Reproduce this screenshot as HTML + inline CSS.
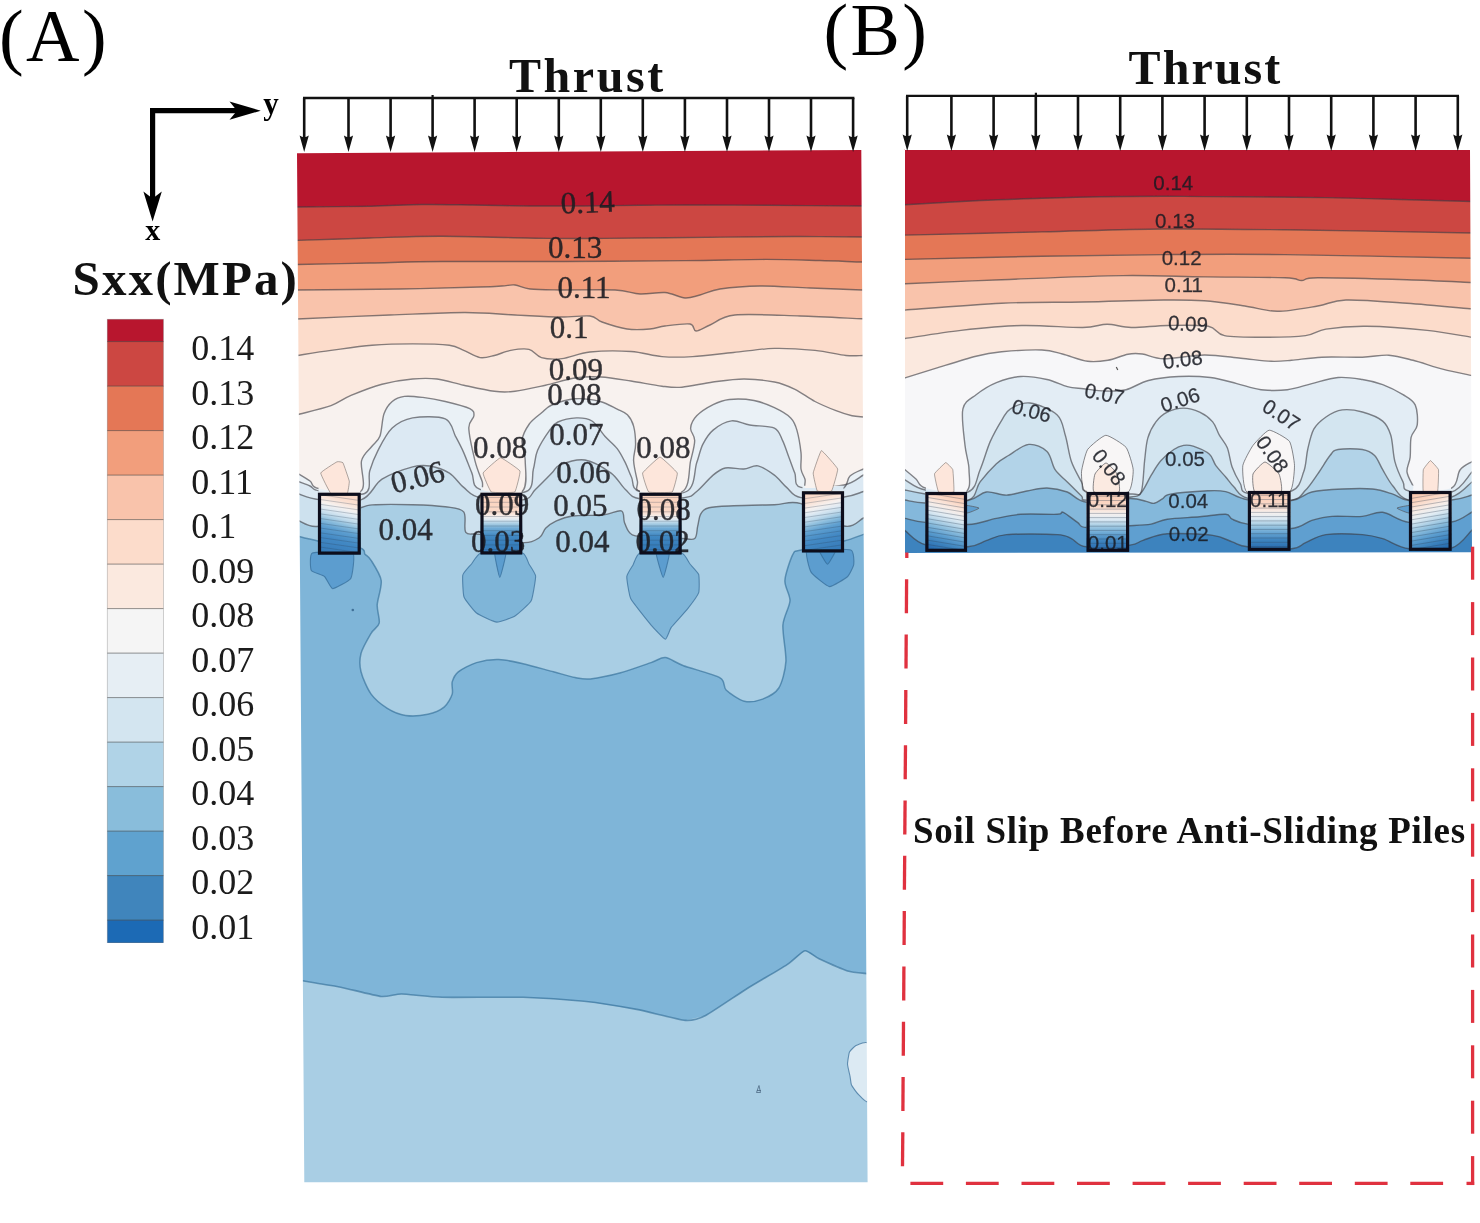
<!DOCTYPE html>
<html lang="en"><head><meta charset="utf-8"><title>Sxx contours</title>
<style>html,body{margin:0;padding:0;background:#fff}body{width:1480px;height:1223px;overflow:hidden}svg{display:block}.sb{font-family:"Liberation Serif","DejaVu Serif",serif;font-weight:bold;fill:#111}.sr{font-family:"Liberation Serif","DejaVu Serif",serif;fill:#000}.la{font-family:"Liberation Serif","DejaVu Serif",serif;font-size:31px;fill:#1d1d22;fill-opacity:.9;stroke:#1d1d22;stroke-width:.45;stroke-opacity:.8}.lb{font-family:"Liberation Sans","DejaVu Sans",sans-serif;font-size:20.5px;fill:#1a1d24;fill-opacity:.88;stroke:#1a1d24;stroke-width:.3;stroke-opacity:.7}.lg{font-family:"Liberation Serif","DejaVu Serif",serif;font-size:36px;fill:#1a1a1a}.cl{fill:none;stroke:#3c3c42;stroke-width:1.4;stroke-opacity:.62;stroke-linejoin:round}</style></head><body>
<svg width="1480" height="1223" viewBox="0 0 1480 1223">
<defs>
<clipPath id="ca"><polygon points="297,153.3 861.3,150 867.6,1182.2 304.3,1182.2"/></clipPath>
<clipPath id="cb"><polygon points="905,150 1470,150 1472,552.3 905,553"/></clipPath>
<linearGradient id="ga0" gradientUnits="userSpaceOnUse" x1="348.4" y1="492.8" x2="330.4" y2="554.6"><stop offset="0" stop-color="#fbd6c3"/><stop offset="0.14" stop-color="#fbe0d2"/><stop offset="0.25" stop-color="#f6f1ef"/><stop offset="0.33" stop-color="#dfeaf3"/><stop offset="0.42" stop-color="#bcd8ea"/><stop offset="0.5" stop-color="#8dbedd"/><stop offset="0.6" stop-color="#5e9fd0"/><stop offset="0.75" stop-color="#4389c4"/><stop offset="1" stop-color="#3479b8"/></linearGradient>
<linearGradient id="ga1" gradientUnits="userSpaceOnUse" x1="501.4" y1="492.8" x2="501.4" y2="554.4"><stop offset="0" stop-color="#fad0bb"/><stop offset="0.3" stop-color="#fbd9c8"/><stop offset="0.38" stop-color="#f7efeb"/><stop offset="0.44" stop-color="#dce9f3"/><stop offset="0.5" stop-color="#a9cee4"/><stop offset="0.58" stop-color="#6eaad5"/><stop offset="0.7" stop-color="#4088c2"/><stop offset="1" stop-color="#2f74b6"/></linearGradient>
<linearGradient id="ga2" gradientUnits="userSpaceOnUse" x1="660.5" y1="492.8" x2="660.5" y2="554.4"><stop offset="0" stop-color="#fad0bb"/><stop offset="0.3" stop-color="#fbd9c8"/><stop offset="0.38" stop-color="#f7efeb"/><stop offset="0.44" stop-color="#dce9f3"/><stop offset="0.5" stop-color="#a9cee4"/><stop offset="0.58" stop-color="#6eaad5"/><stop offset="0.7" stop-color="#4088c2"/><stop offset="1" stop-color="#2f74b6"/></linearGradient>
<linearGradient id="ga3" gradientUnits="userSpaceOnUse" x1="814" y1="491.3" x2="832" y2="552.4"><stop offset="0" stop-color="#fbd6c3"/><stop offset="0.14" stop-color="#fbe0d2"/><stop offset="0.25" stop-color="#f6f1ef"/><stop offset="0.33" stop-color="#dfeaf3"/><stop offset="0.42" stop-color="#bcd8ea"/><stop offset="0.5" stop-color="#8dbedd"/><stop offset="0.6" stop-color="#5e9fd0"/><stop offset="0.75" stop-color="#4389c4"/><stop offset="1" stop-color="#3479b8"/></linearGradient>
<linearGradient id="gb0" gradientUnits="userSpaceOnUse" x1="956.2" y1="492" x2="936.2" y2="551.8"><stop offset="0" stop-color="#f9c4ab"/><stop offset="0.15" stop-color="#fbd6c3"/><stop offset="0.28" stop-color="#f8ece6"/><stop offset="0.4" stop-color="#e3edf4"/><stop offset="0.5" stop-color="#bcd8ea"/><stop offset="0.6" stop-color="#8dbedd"/><stop offset="0.72" stop-color="#5e9fd0"/><stop offset="0.85" stop-color="#3d83be"/><stop offset="1" stop-color="#2367ae"/></linearGradient>
<linearGradient id="gb1" gradientUnits="userSpaceOnUse" x1="1107.8" y1="492" x2="1107.8" y2="551.8"><stop offset="0" stop-color="#f9c9b2"/><stop offset="0.25" stop-color="#fbdac9"/><stop offset="0.36" stop-color="#f6f0ee"/><stop offset="0.46" stop-color="#dce9f3"/><stop offset="0.56" stop-color="#a9cee4"/><stop offset="0.68" stop-color="#6eaad5"/><stop offset="0.82" stop-color="#3d83be"/><stop offset="1" stop-color="#2367ae"/></linearGradient>
<linearGradient id="gb2" gradientUnits="userSpaceOnUse" x1="1269.2" y1="491" x2="1269.2" y2="550.8"><stop offset="0" stop-color="#f9c9b2"/><stop offset="0.25" stop-color="#fbdac9"/><stop offset="0.36" stop-color="#f6f0ee"/><stop offset="0.46" stop-color="#dce9f3"/><stop offset="0.56" stop-color="#a9cee4"/><stop offset="0.68" stop-color="#6eaad5"/><stop offset="0.82" stop-color="#3d83be"/><stop offset="1" stop-color="#2367ae"/></linearGradient>
<linearGradient id="gb3" gradientUnits="userSpaceOnUse" x1="1420.3" y1="491" x2="1440.3" y2="550.8"><stop offset="0" stop-color="#f9c4ab"/><stop offset="0.15" stop-color="#fbd6c3"/><stop offset="0.28" stop-color="#f8ece6"/><stop offset="0.4" stop-color="#e3edf4"/><stop offset="0.5" stop-color="#bcd8ea"/><stop offset="0.6" stop-color="#8dbedd"/><stop offset="0.72" stop-color="#5e9fd0"/><stop offset="0.85" stop-color="#3d83be"/><stop offset="1" stop-color="#2367ae"/></linearGradient>
<clipPath id="ca2"><rect x="288" y="138" width="590" height="1054"/></clipPath><clipPath id="cb2"><rect x="898" y="138" width="582" height="424"/></clipPath>
<clipPath id="xa"><path clip-rule="evenodd" d="M280,130 H890 V1200 H280 Z M318.5,487.3 H360.2 V554.6 H318.5 Z M481.0,487.3 H521.7 V554.4 H481.0 Z M640.0,487.3 H681.1 V554.4 H640.0 Z M802.5,485.8 H843.5 V552.4 H802.5 Z"/></clipPath>
<clipPath id="xb"><path clip-rule="evenodd" d="M890,130 H1480 V570 H890 Z M925.9,486.5 H966.5 V551.8 H925.9 Z M1087.1,486.5 H1128.6 V551.8 H1087.1 Z M1248.4,485.5 H1290.0 V550.8 H1248.4 Z M1409.5,485.5 H1451.1 V550.8 H1409.5 Z"/></clipPath>
<filter id="bl" x="-2%" y="-2%" width="104%" height="104%"><feGaussianBlur stdDeviation="0.65"/></filter><filter id="bl2" x="-5%" y="-2%" width="110%" height="104%"><feGaussianBlur stdDeviation="0.5"/></filter>
</defs>
<rect width="1480" height="1223" fill="#fff"/>
<g filter="url(#bl)">
<g clip-path="url(#ca2)">
<rect x="290" y="140" width="590" height="1050" fill="#b8162e"/>
<path d="M290,207.2 C291.1,207.2 284,207.2 297,207 C310,206.8 351,206.6 371,206.2 C391,205.8 405.8,204.7 422,204.5 C438.2,204.3 457.4,204.8 472,205 C486.6,205.2 500,205.6 513,205.8 C526,206 541.6,206 553,206 C564.4,206 570.1,206.1 584,206 C597.9,205.9 623.8,205.5 640,205.3 C656.2,205.1 664.8,205 685,205 C705.2,205 737.7,205.1 766,205.3 C794.3,205.5 845,205.9 862,206 C879,206.1 870.4,206 872,206 L872,1190 L290,1190 Z" fill="#cc4742"/>
<path d="M290,240.5 C291.1,240.5 284.2,240.8 297,240.4 C309.8,240 346.8,238.7 370,238 C393.2,237.3 413.6,236.2 442,236.3 C470.4,236.4 521.6,238.1 547.5,238.4 C573.4,238.7 575.4,238.6 604,238.4 C632.6,238.2 694.6,237.4 726,237.1 C757.4,236.8 778.2,236.5 800,236.5 C821.8,236.5 850.5,236.9 862,237 C873.5,237.1 870.4,237 872,237 L872,1190 L290,1190 Z" fill="#e47757"/>
<path d="M290,264.6 C291.1,264.6 284.2,264.8 297,264.5 C309.8,264.2 346.8,263.5 370,263 C393.2,262.5 411,261.7 442,261.5 C473,261.3 525.1,261.6 564,261.5 C602.9,261.4 652.7,260.9 685,260.6 C717.3,260.3 744.4,259.4 766,259.4 C787.6,259.4 804.6,260.1 820,260.5 C835.4,260.9 853.7,261.8 862,262 C870.3,262.2 870.4,262 872,262 L872,1190 L290,1190 Z" fill="#f29e7c"/>
<path d="M290,290 C291.1,290 279.4,290.2 297,290 C314.6,289.8 370.7,289.5 400,289 C429.3,288.5 463.7,287.5 480,287 C496.3,286.5 496.4,286.3 502,286 C507.6,285.7 510.5,284.5 515,285 C519.5,285.5 522.8,288.2 530,289 C537.2,289.8 546.4,289.8 560,290 C573.6,290.2 602.2,289.4 615,290 C627.8,290.6 632,293.6 640,294 C648,294.4 657.8,291.9 665,292.5 C672.2,293.1 679.4,297.6 685,298 C690.6,298.4 694.4,296.4 700,295 C705.6,293.6 710.4,290.4 720,289 C729.6,287.6 745.6,286.2 760,286 C774.4,285.8 793.7,287.4 810,288 C826.3,288.6 852.1,289.7 862,290 C871.9,290.3 870.4,290 872,290 L872,1190 L290,1190 Z" fill="#f9c3ab"/>
<path d="M290,319.3 C291.1,319.3 281,319.7 297,319 C313,318.3 363.1,316 390,315 C416.9,314 445,312.5 465,312.5 C485,312.5 499.8,314.3 515,315 C530.2,315.7 548,316.8 560,317 C572,317.2 583.3,315.2 590,316 C596.7,316.8 596.1,319.9 602,322 C607.9,324.1 619.3,327.9 627,329 C634.7,330.1 643.9,329.5 650,329 C656.1,328.5 658.6,326.8 665,326 C671.4,325.2 685,323.2 690,324 C695,324.8 692.8,330.8 696,331 C699.2,331.2 703.8,327.6 710,325 C716.2,322.4 720.6,316.4 735,315 C749.4,313.6 779.7,315.4 800,316 C820.3,316.6 850.5,318.3 862,318.8 C873.5,319.2 870.4,319 872,319 L872,1190 L290,1190 Z" fill="#fcdccb"/>
<path d="M290,356.5 C291.1,356.3 290.4,356.5 297,355.5 C303.6,354.5 319,352 331,350.4 C343,348.8 358.9,346.3 372,345.3 C385.1,344.3 400.2,343.9 412.6,343.9 C425,343.9 441.2,344.3 449.4,345.3 C457.6,346.3 458.8,348.4 463.7,350.4 C468.6,352.4 475.1,356.8 480,357.6 C484.9,358.4 489.5,356.7 494.4,355.5 C499.3,354.3 505.2,351.4 510.7,350.4 C516.2,349.4 524.1,348.2 529,349.4 C533.9,350.6 536.1,356.1 541.4,357.6 C546.7,359.1 554.2,359.5 562,358.6 C569.8,357.7 579,353.1 590,352 C601,350.9 619.5,350.8 631,351.5 C642.5,352.2 652.1,355.8 662,356.6 C671.9,357.4 681.2,357.3 692.6,356.6 C704,355.9 720.4,353.8 733.5,352.5 C746.6,351.2 761.4,348.7 774.4,348.4 C787.4,348.1 803.5,349.3 815,350.4 C826.5,351.5 838.2,354.7 846,355.5 C853.8,356.3 859.3,355.5 863.5,355.5 C867.7,355.5 870.6,355.5 872,355.5 L872,1190 L290,1190 Z" fill="#fbe9df"/>
<path d="M290,417 C291.1,416.6 290.4,416.6 297,414.8 C303.6,413 322.4,408.7 331,405.6 C339.6,402.5 342.8,398.8 351,395.4 C359.2,392 372.1,386.8 382,384.2 C391.9,381.6 403.8,379.8 412.6,379 C421.4,378.2 428.8,378 437,379 C445.2,380 454.5,383.2 463.7,385.2 C472.9,387.2 486.2,390.3 494.4,391.3 C502.6,392.3 506.8,392.3 515,391.3 C523.2,390.3 535.9,387.3 545.5,385.2 C555.1,383.1 566.1,379.3 575,378 C583.9,376.7 592,376.5 601,377 C610,377.5 621.2,379.5 631,381 C640.8,382.5 653.8,385.2 662,386.2 C670.2,387.2 673.8,387.9 682,387.2 C690.2,386.5 703.1,383.3 713,382 C722.9,380.7 734.2,379 744,379 C753.8,379 766.2,380.4 774.4,382 C782.6,383.6 788.5,386.2 795,389.3 C801.5,392.4 808.4,398.1 815,401.5 C821.6,404.9 830.1,408.4 836,410.7 C841.9,413 847.6,414.8 852,415.8 C856.4,416.8 860.3,416.7 863.5,417 C866.7,417.3 870.6,417.4 872,417.5 L872,1190 L290,1190 Z" fill="#f8f2ef"/>
<path d="M290,469 C291.1,469.6 293.8,471.1 297,473 C300.2,474.9 306.6,478.5 310,481 C313.4,483.5 310.4,486.8 318.5,488.5 C326.6,490.2 353.6,495.9 360.5,491.5 C367.4,487.1 359.7,468 361.5,460.8 C363.3,453.6 368.8,450.4 371.7,446.5 C374.6,442.6 377.9,441.5 379.9,436.3 C381.9,431.1 382,419.4 384,413.8 C386,408.2 388.9,404.3 392.2,401.5 C395.5,398.7 399.5,397.1 404.4,396.4 C409.3,395.7 416.3,396.6 422.8,397.4 C429.3,398.2 437.8,399.7 445.3,401.5 C452.8,403.3 465.2,406.4 469.8,408.7 C474.4,411 474.1,412.7 473.9,415.8 C473.7,418.9 468.6,420.9 468.8,428.1 C469,435.3 472.9,452.3 475,460.8 C477.1,469.3 480.3,476.3 482.1,481.2 C483.9,486.1 479.8,489.9 486.2,491.5 C492.6,493.1 515.9,496.4 522.1,491.5 C528.3,486.6 525.2,469 525.2,460.8 C525.2,452.6 521.3,446.3 522,440.4 C522.7,434.5 526.2,428.4 529.3,424 C532.4,419.6 538,415.8 541.6,412.8 C545.2,409.8 546.5,407.2 551.8,405 C557.1,402.8 567.3,399.4 575,398.8 C582.7,398.2 593.2,399.8 600,401.5 C606.8,403.2 612.8,407.1 617.2,409.2 C621.6,411.3 624.8,412.1 627.4,414.8 C630,417.5 632.3,421.3 633.6,426.1 C634.9,430.9 635.6,438.9 635.6,444.5 C635.6,450.1 633.3,454.9 633.6,460.8 C633.9,466.7 636.3,476.3 637.4,481.2 C638.5,486.1 633.3,489.9 640.5,491.5 C647.7,493.1 674.4,496.4 682.4,491.5 C690.4,486.6 688.6,469 690.6,460.8 C692.6,452.6 694.7,445.6 694.7,440.4 C694.7,435.2 690.3,432 690.6,428.1 C690.9,424.2 693.1,419.6 696.7,415.8 C700.3,412 707.9,407.2 713.1,404.6 C718.3,402 722.9,400.2 729.4,399.5 C735.9,398.8 746.8,399.2 754,400.5 C761.2,401.8 768.5,404.9 774.4,407.7 C780.3,410.5 787.1,414.3 790.7,417.9 C794.3,421.5 795.3,424.5 796.9,430.1 C798.5,435.7 800.3,446.4 801,452.6 C801.7,458.8 800.4,464.7 801,469 C801.6,473.3 803.9,475.8 805,479.2 C806.1,482.6 802.1,488.8 808,490.4 C813.9,492 835.1,491.3 841.8,489 C848.5,486.7 846.5,479.2 850,476 C853.5,472.8 860,470.6 863.5,469 C867,467.4 870.6,466.5 872,466 L872,1190 L290,1190 Z" fill="#eaf1f6"/>
<path d="M290,478 C291.1,478.5 293.8,479.7 297,481 C300.2,482.3 306.3,484.4 310,486 C313.7,487.6 311.3,489.8 320,491 C328.7,492.2 356.6,496.7 364.6,493.5 C372.6,490.3 367.6,477.9 369.7,471 C371.8,464.1 374.3,457.5 377.9,450.6 C381.5,443.7 386.6,433.3 392.2,428.1 C397.8,422.9 404.1,419.4 412.6,417.9 C421.1,416.4 438.4,416 445.3,418.9 C452.2,421.8 452.6,430.9 455.5,436.3 C458.4,441.7 461.1,446.7 463.7,452.6 C466.3,458.5 469.3,467.2 471.9,473.1 C474.5,479 471.3,486.5 480,489.4 C488.7,492.3 517.7,494.8 526.2,491.5 C534.7,488.2 531.6,475.5 533.4,469 C535.2,462.5 534.9,456.8 537.5,450.6 C540.1,444.4 546.4,434.8 549.7,430.2 C553,425.6 553.6,424 557.9,422 C562.2,420 570.8,418.1 576.3,417.9 C581.8,417.7 587.4,418.1 592,421 C596.6,423.9 600.9,431.9 604.9,436.3 C608.9,440.7 613.9,444.3 617.2,448.6 C620.5,452.9 623.1,458.3 625.4,462.9 C627.7,467.5 629.2,472.6 631.5,477.2 C633.8,481.8 630.9,489.2 639.7,491.5 C648.5,493.8 677.4,496.1 686.5,491.5 C695.6,486.9 694.1,470.3 696.7,462.8 C699.3,455.3 700.2,449.6 702.8,444.4 C705.4,439.2 708.5,433.9 713.1,430.1 C717.7,426.3 725.6,421.7 731.5,420.9 C737.4,420.1 742.9,423.8 749.8,425 C756.7,426.2 769.2,425.6 774.4,428.1 C779.6,430.6 780.2,435.8 782.5,440.4 C784.8,445 786.7,451.5 788.7,456.7 C790.7,461.9 792.8,468.2 794.8,473.1 C796.8,478 793.1,485.5 801,487.4 C808.9,489.3 834,487 844,485 C854,483 859,477.2 863.5,475 C868,472.8 870.6,471.6 872,471 L872,1190 L290,1190 Z" fill="#dce9f3"/>
<path d="M290,492 C291.1,492.2 292.4,492.3 297,493.5 C301.6,494.7 308.7,498.6 319,499.6 C329.3,500.6 351.4,502.9 361.5,499.6 C371.6,496.3 373.8,484.4 382,479.2 C390.2,474 404.9,469 412.6,466.9 C420.3,464.8 424.1,465 430,466 C435.9,467 444,469.7 449.4,473.1 C454.8,476.5 458.8,483.5 463.7,487.4 C468.6,491.3 470.5,495.6 480,497.6 C489.5,499.6 514.3,501 523.2,499.7 C532.1,498.4 530.8,493.8 535.4,489.5 C540,485.2 547.9,477 551.8,473.1 C555.7,469.2 554.7,467 560,464.9 C565.3,462.8 576.8,458.7 585,460 C593.2,461.3 604.6,468.4 611.1,473.1 C617.6,477.8 620.8,485.4 625.4,489.5 C630,493.6 630.3,497.4 639.7,498.7 C649.1,500 675.3,498.8 684.4,497.6 C693.5,496.4 692.1,495.1 696.7,491.5 C701.3,487.9 708.5,478.9 713.1,475.1 C717.7,471.3 720.4,469 725.3,468 C730.2,467 738.5,469.3 743.7,469 C748.9,468.7 753.1,464.9 758,465.9 C762.9,466.9 769.8,471.7 774.4,475.1 C779,478.5 782.3,483.8 786.6,487.4 C790.9,491 791.8,496.1 801,497.6 C810.2,499.1 834,498 844,497 C854,496 859,492.8 863.5,491.5 C868,490.2 870.6,489.4 872,489 L872,1190 L290,1190 Z" fill="#cde1ee"/>
<path d="M290,518 C291.1,518.3 292.4,518.7 297,520 C301.6,521.3 308.4,528.2 318.6,526.2 C328.8,524.2 351.3,511.2 360.5,507.8 C369.7,504.4 367.5,505.2 375.8,504.7 C384.1,504.2 401.5,504.4 412.6,504.7 C423.7,505 437.1,505.6 445.3,506.8 C453.5,508 460.4,507.8 463.7,511.9 C467,516 463.2,528.7 465.8,532.3 C468.4,535.9 470.8,532.8 480,534.4 C489.2,536 513.7,542.1 523.2,542.6 C532.7,543.1 535.9,539.8 539.5,537.5 C543.1,535.2 543,530.9 545.6,528.3 C548.2,525.7 551.6,523.2 555.9,521.2 C560.2,519.2 564.7,517 572.2,516 C579.7,515 595,515.8 602.9,515 C610.8,514.2 617.9,509.7 621.3,510.9 C624.7,512.1 623.1,518.8 624.4,522.2 C625.7,525.6 627.1,530.1 629.5,532.4 C631.9,534.7 631.3,535.5 639.7,536.5 C648.1,537.5 673.2,538.2 682,538.5 C690.8,538.8 692.2,540.5 694.7,538.5 C697.2,536.5 696.7,530.1 697.7,526.2 C698.7,522.3 699,516.8 700.8,513.9 C702.6,511 703.8,509.1 709,507.8 C714.2,506.5 723,506.3 733.5,505.8 C744,505.3 763.6,505 774.4,504.7 C785.2,504.4 789.9,500.3 801,503.7 C812.1,507.1 834,523.7 844,526 C854,528.3 859,519.8 863.5,518 C868,516.2 870.6,515.5 872,515 L872,1190 L290,1190 Z" fill="#a9cee4"/>
<path d="M290,534 C291,534.3 293.1,535 297,536 C300.9,537 309.2,539.3 318,541 C326.8,542.7 353.4,546.2 360,548 C366.6,549.8 363.4,552.5 365,554.2 C366.6,555.9 368.8,556.6 371.1,560.3 C373.4,564 380.3,574.3 381.2,580.5 C382.1,586.7 377.5,598.9 377.2,604.9 C376.9,610.9 380.1,619.1 379.2,623.1 C378.3,627.1 373.6,629 371.1,633.3 C368.6,637.6 362.4,648.1 361,653.5 C359.6,658.9 359.6,666.1 361,671.8 C362.4,677.5 367.4,689 371.1,694.1 C374.8,699.2 382.5,705.3 387.3,708.3 C392.1,711.3 399.8,714.6 405.5,715.4 C411.2,716.2 422.4,715.4 427.8,714.3 C433.2,713.2 440.7,710 444.1,707.2 C447.5,704.4 451.1,697.6 452.2,694.1 C453.3,690.6 451.3,685 452.2,681.9 C453.1,678.8 454.9,674.5 458.3,671.8 C461.7,669.1 470.8,664.3 476.5,662.6 C482.2,660.9 492.3,659.4 498.8,659.6 C505.3,659.8 515.4,662 523.1,663.7 C530.8,665.4 546.2,669.9 553.5,671.8 C560.8,673.7 569.8,676.5 575,677.5 C580.2,678.5 583.9,679.6 590.3,678.9 C596.7,678.2 612.2,675.1 620.7,672.8 C629.2,670.5 644.9,664.7 651.1,662.6 C657.3,660.5 660.8,657.2 665.3,657.6 C669.8,658 675.8,662.9 683.5,665.7 C691.2,668.5 714,674.4 720,677.8 C726,681.2 722.7,686.7 726.1,690 C729.5,693.3 739.2,699.9 744.3,701.2 C749.4,702.5 757.8,700.9 762.6,699.1 C767.4,697.3 775.5,693.2 778.8,688 C782.1,682.8 785.3,670.4 785.9,661.6 C786.5,652.8 782.3,633.6 782.9,625.1 C783.5,616.6 789.7,607 790,600.8 C790.3,594.6 784.5,587 784.9,580.5 C785.3,574 790.7,558.5 793,554.2 C795.3,549.9 794,551.9 801.1,550.1 C808.2,548.3 835.3,543.2 844,541 C852.7,538.8 859.2,535.8 863.5,534.4 C867.8,533 873.4,531.5 875,531 L876,974.5 L868,973.8 L847.5,970.9 L819.1,958.8 L804.9,950.7 L786.7,964.9 L746.1,989.2 L705.6,1015.5 L685.3,1020.4 L636.7,1009.4 L584,1001.3 L523.2,997.3 L442.1,997.3 L401.6,994 L381.3,996.5 L340.8,987.2 L304,981 L295,979.5 Z" fill="#7fb5d8"/>
<path d="M481,553 C477.4,553.8 472.8,562.5 471.5,564 C470.2,565.5 463.3,572.7 462.8,575 C462.3,577.3 463,594.3 464,597 C465,599.7 474.2,611.2 476.5,613 C478.8,614.8 494.1,621.9 496.8,622.1 C499.5,622.3 512.6,617.5 515,616 C517.4,614.5 529.8,603.6 531.2,600.8 C532.6,598 535.8,578.6 535.6,576 C535.4,573.4 529.9,565.6 529,564 C528.1,562.4 525.9,553.8 522.5,553 C519.1,552.2 484.6,552.2 481,553 Z" fill="#7fb5d8" stroke="#336a96" stroke-opacity=".7" stroke-width="1.1"/>
<path d="M640,553 C636.6,553.8 633.9,563.4 633,565 C632.1,566.6 627,574.1 626.8,576.5 C626.6,578.9 629.1,595.4 630.8,598.8 C632.5,602.2 648.7,622.3 651.1,625.1 C653.5,627.9 663.9,639.2 665.3,639.3 C666.7,639.4 669.8,629.3 671.4,627.2 C673,625.1 685.7,611.3 687.6,608.9 C689.5,606.5 697.9,595.1 698.7,592.7 C699.5,590.3 699.3,576.5 698.7,574.5 C698.1,572.5 691.2,565.5 690,564 C688.8,562.5 685,553.8 681.5,553 C678,552.2 643.4,552.2 640,553 Z" fill="#7fb5d8" stroke="#336a96" stroke-opacity=".7" stroke-width="1.1"/>
<path d="M494.7,553 C494.3,554.7 499,577.5 499.8,577.5 C500.6,577.5 506.3,554.7 505.9,553 C505.5,551.3 495.1,551.3 494.7,553 Z" fill="#5b9dcf" stroke="#336a96" stroke-opacity=".7" stroke-width="1.1"/>
<path d="M656.2,553 C655.8,554.7 662.3,577.5 663.2,577.5 C664.1,577.5 669.8,554.7 669.3,553 C668.8,551.3 656.6,551.3 656.2,553 Z" fill="#5b9dcf" stroke="#336a96" stroke-opacity=".7" stroke-width="1.1"/>
<path d="M312.3,553 C309.4,554.2 310.4,568.8 311.3,570.4 C312.2,572 323,575.2 324.5,576.5 C326,577.8 330.8,588.6 332.6,588.7 C334.4,588.8 349.4,581 350.8,578.5 C352.2,576 355.5,554.8 352.8,553 C350.1,551.2 315.2,551.8 312.3,553 Z" fill="#5b9dcf" stroke="#336a96" stroke-opacity=".7" stroke-width="1.1"/>
<path d="M807.2,550 C804.4,551.6 809.6,569.8 811.2,572.4 C812.8,575 826.9,586.3 829.5,586.6 C832.1,586.9 846,578.1 847.7,576.5 C849.4,574.9 853.6,566.2 853.8,564.3 C854,562.4 854.1,551 850.8,550 C847.5,549 810,548.4 807.2,550 Z" fill="#5b9dcf" stroke="#336a96" stroke-opacity=".7" stroke-width="1.1"/>
<path d="M819.3,550 C818.7,551 826.4,564.3 827.5,564.3 C828.6,564.3 836.2,551 835.6,550 C835,549 819.9,549 819.3,550 Z" fill="#4a90c8" stroke="#336a96" stroke-opacity=".7" stroke-width="1.1"/>
<path d="M868,1044 C867.2,1040.1 857.3,1044.9 856,1045.5 C854.7,1046.1 850.1,1050.7 849.5,1052 C848.9,1053.3 847.5,1062.3 847.5,1064 C847.5,1065.7 849.7,1074.5 850,1076 C850.3,1077.5 850.9,1083.7 851.5,1085 C852.1,1086.3 856.8,1092.9 858,1094 C859.2,1095.1 867.3,1104.5 868,1101 C868.7,1097.5 868.8,1047.9 868,1044 Z" fill="#dceaf3" stroke="#336a96" stroke-opacity=".7" stroke-width="1.1"/>
<path d="M320.7,473 C320.9,471.7 336.1,462.2 337,461.8 C337.9,461.4 342.5,462 343,462.8 C343.5,463.6 349.1,480 349.3,481.2 C349.5,482.4 347.9,493 347.2,493.5 C346.5,494 332,494.3 330.9,493.5 C329.8,492.7 320.5,474.3 320.7,473 Z" fill="#fde6db" stroke="#6b625f" stroke-opacity=".6" stroke-width=".9"/>
<path d="M483.1,473 C483.5,471.6 499,457.8 500.5,457.7 C502,457.6 519.4,469.6 520,471 C520.6,472.4 515.9,491.2 514.8,492 C513.7,492.8 492.6,492.8 491.3,492 C490,491.2 482.7,474.4 483.1,473 Z" fill="#fde6db" stroke="#6b625f" stroke-opacity=".6" stroke-width=".9"/>
<path d="M642.6,473 C643.1,471.6 658.6,457 660,457 C661.4,457 676.8,471.6 677.3,473 C677.8,474.4 673.3,491.2 672.2,492 C671.1,492.8 649.9,492.8 648.7,492 C647.5,491.2 642.1,474.4 642.6,473 Z" fill="#fde6db" stroke="#6b625f" stroke-opacity=".6" stroke-width=".9"/>
<path d="M813.2,473 C813.4,471.4 820.4,450.8 821.4,450.6 C822.4,450.4 837.3,467.4 837.7,469 C838.1,470.6 832.4,490.1 831.6,491 C830.8,491.9 818,491.7 817.3,491 C816.6,490.3 813,474.6 813.2,473 Z" fill="#fde6db" stroke="#6b625f" stroke-opacity=".6" stroke-width=".9"/>
<g clip-path="url(#xa)">
<path class="cl" d="M290,207.2 C291.1,207.2 284,207.2 297,207 C310,206.8 351,206.6 371,206.2 C391,205.8 405.8,204.7 422,204.5 C438.2,204.3 457.4,204.8 472,205 C486.6,205.2 500,205.6 513,205.8 C526,206 541.6,206 553,206 C564.4,206 570.1,206.1 584,206 C597.9,205.9 623.8,205.5 640,205.3 C656.2,205.1 664.8,205 685,205 C705.2,205 737.7,205.1 766,205.3 C794.3,205.5 845,205.9 862,206 C879,206.1 870.4,206 872,206"/>
<path class="cl" d="M290,240.5 C291.1,240.5 284.2,240.8 297,240.4 C309.8,240 346.8,238.7 370,238 C393.2,237.3 413.6,236.2 442,236.3 C470.4,236.4 521.6,238.1 547.5,238.4 C573.4,238.7 575.4,238.6 604,238.4 C632.6,238.2 694.6,237.4 726,237.1 C757.4,236.8 778.2,236.5 800,236.5 C821.8,236.5 850.5,236.9 862,237 C873.5,237.1 870.4,237 872,237"/>
<path class="cl" d="M290,264.6 C291.1,264.6 284.2,264.8 297,264.5 C309.8,264.2 346.8,263.5 370,263 C393.2,262.5 411,261.7 442,261.5 C473,261.3 525.1,261.6 564,261.5 C602.9,261.4 652.7,260.9 685,260.6 C717.3,260.3 744.4,259.4 766,259.4 C787.6,259.4 804.6,260.1 820,260.5 C835.4,260.9 853.7,261.8 862,262 C870.3,262.2 870.4,262 872,262"/>
<path class="cl" d="M290,290 C291.1,290 279.4,290.2 297,290 C314.6,289.8 370.7,289.5 400,289 C429.3,288.5 463.7,287.5 480,287 C496.3,286.5 496.4,286.3 502,286 C507.6,285.7 510.5,284.5 515,285 C519.5,285.5 522.8,288.2 530,289 C537.2,289.8 546.4,289.8 560,290 C573.6,290.2 602.2,289.4 615,290 C627.8,290.6 632,293.6 640,294 C648,294.4 657.8,291.9 665,292.5 C672.2,293.1 679.4,297.6 685,298 C690.6,298.4 694.4,296.4 700,295 C705.6,293.6 710.4,290.4 720,289 C729.6,287.6 745.6,286.2 760,286 C774.4,285.8 793.7,287.4 810,288 C826.3,288.6 852.1,289.7 862,290 C871.9,290.3 870.4,290 872,290"/>
<path class="cl" d="M290,319.3 C291.1,319.3 281,319.7 297,319 C313,318.3 363.1,316 390,315 C416.9,314 445,312.5 465,312.5 C485,312.5 499.8,314.3 515,315 C530.2,315.7 548,316.8 560,317 C572,317.2 583.3,315.2 590,316 C596.7,316.8 596.1,319.9 602,322 C607.9,324.1 619.3,327.9 627,329 C634.7,330.1 643.9,329.5 650,329 C656.1,328.5 658.6,326.8 665,326 C671.4,325.2 685,323.2 690,324 C695,324.8 692.8,330.8 696,331 C699.2,331.2 703.8,327.6 710,325 C716.2,322.4 720.6,316.4 735,315 C749.4,313.6 779.7,315.4 800,316 C820.3,316.6 850.5,318.3 862,318.8 C873.5,319.2 870.4,319 872,319"/>
<path class="cl" d="M290,356.5 C291.1,356.3 290.4,356.5 297,355.5 C303.6,354.5 319,352 331,350.4 C343,348.8 358.9,346.3 372,345.3 C385.1,344.3 400.2,343.9 412.6,343.9 C425,343.9 441.2,344.3 449.4,345.3 C457.6,346.3 458.8,348.4 463.7,350.4 C468.6,352.4 475.1,356.8 480,357.6 C484.9,358.4 489.5,356.7 494.4,355.5 C499.3,354.3 505.2,351.4 510.7,350.4 C516.2,349.4 524.1,348.2 529,349.4 C533.9,350.6 536.1,356.1 541.4,357.6 C546.7,359.1 554.2,359.5 562,358.6 C569.8,357.7 579,353.1 590,352 C601,350.9 619.5,350.8 631,351.5 C642.5,352.2 652.1,355.8 662,356.6 C671.9,357.4 681.2,357.3 692.6,356.6 C704,355.9 720.4,353.8 733.5,352.5 C746.6,351.2 761.4,348.7 774.4,348.4 C787.4,348.1 803.5,349.3 815,350.4 C826.5,351.5 838.2,354.7 846,355.5 C853.8,356.3 859.3,355.5 863.5,355.5 C867.7,355.5 870.6,355.5 872,355.5"/>
<path class="cl" d="M290,417 C291.1,416.6 290.4,416.6 297,414.8 C303.6,413 322.4,408.7 331,405.6 C339.6,402.5 342.8,398.8 351,395.4 C359.2,392 372.1,386.8 382,384.2 C391.9,381.6 403.8,379.8 412.6,379 C421.4,378.2 428.8,378 437,379 C445.2,380 454.5,383.2 463.7,385.2 C472.9,387.2 486.2,390.3 494.4,391.3 C502.6,392.3 506.8,392.3 515,391.3 C523.2,390.3 535.9,387.3 545.5,385.2 C555.1,383.1 566.1,379.3 575,378 C583.9,376.7 592,376.5 601,377 C610,377.5 621.2,379.5 631,381 C640.8,382.5 653.8,385.2 662,386.2 C670.2,387.2 673.8,387.9 682,387.2 C690.2,386.5 703.1,383.3 713,382 C722.9,380.7 734.2,379 744,379 C753.8,379 766.2,380.4 774.4,382 C782.6,383.6 788.5,386.2 795,389.3 C801.5,392.4 808.4,398.1 815,401.5 C821.6,404.9 830.1,408.4 836,410.7 C841.9,413 847.6,414.8 852,415.8 C856.4,416.8 860.3,416.7 863.5,417 C866.7,417.3 870.6,417.4 872,417.5"/>
<path class="cl" d="M290,469 C291.1,469.6 293.8,471.1 297,473 C300.2,474.9 306.6,478.5 310,481 C313.4,483.5 310.4,486.8 318.5,488.5 C326.6,490.2 353.6,495.9 360.5,491.5 C367.4,487.1 359.7,468 361.5,460.8 C363.3,453.6 368.8,450.4 371.7,446.5 C374.6,442.6 377.9,441.5 379.9,436.3 C381.9,431.1 382,419.4 384,413.8 C386,408.2 388.9,404.3 392.2,401.5 C395.5,398.7 399.5,397.1 404.4,396.4 C409.3,395.7 416.3,396.6 422.8,397.4 C429.3,398.2 437.8,399.7 445.3,401.5 C452.8,403.3 465.2,406.4 469.8,408.7 C474.4,411 474.1,412.7 473.9,415.8 C473.7,418.9 468.6,420.9 468.8,428.1 C469,435.3 472.9,452.3 475,460.8 C477.1,469.3 480.3,476.3 482.1,481.2 C483.9,486.1 479.8,489.9 486.2,491.5 C492.6,493.1 515.9,496.4 522.1,491.5 C528.3,486.6 525.2,469 525.2,460.8 C525.2,452.6 521.3,446.3 522,440.4 C522.7,434.5 526.2,428.4 529.3,424 C532.4,419.6 538,415.8 541.6,412.8 C545.2,409.8 546.5,407.2 551.8,405 C557.1,402.8 567.3,399.4 575,398.8 C582.7,398.2 593.2,399.8 600,401.5 C606.8,403.2 612.8,407.1 617.2,409.2 C621.6,411.3 624.8,412.1 627.4,414.8 C630,417.5 632.3,421.3 633.6,426.1 C634.9,430.9 635.6,438.9 635.6,444.5 C635.6,450.1 633.3,454.9 633.6,460.8 C633.9,466.7 636.3,476.3 637.4,481.2 C638.5,486.1 633.3,489.9 640.5,491.5 C647.7,493.1 674.4,496.4 682.4,491.5 C690.4,486.6 688.6,469 690.6,460.8 C692.6,452.6 694.7,445.6 694.7,440.4 C694.7,435.2 690.3,432 690.6,428.1 C690.9,424.2 693.1,419.6 696.7,415.8 C700.3,412 707.9,407.2 713.1,404.6 C718.3,402 722.9,400.2 729.4,399.5 C735.9,398.8 746.8,399.2 754,400.5 C761.2,401.8 768.5,404.9 774.4,407.7 C780.3,410.5 787.1,414.3 790.7,417.9 C794.3,421.5 795.3,424.5 796.9,430.1 C798.5,435.7 800.3,446.4 801,452.6 C801.7,458.8 800.4,464.7 801,469 C801.6,473.3 803.9,475.8 805,479.2 C806.1,482.6 802.1,488.8 808,490.4 C813.9,492 835.1,491.3 841.8,489 C848.5,486.7 846.5,479.2 850,476 C853.5,472.8 860,470.6 863.5,469 C867,467.4 870.6,466.5 872,466"/>
<path class="cl" d="M290,478 C291.1,478.5 293.8,479.7 297,481 C300.2,482.3 306.3,484.4 310,486 C313.7,487.6 311.3,489.8 320,491 C328.7,492.2 356.6,496.7 364.6,493.5 C372.6,490.3 367.6,477.9 369.7,471 C371.8,464.1 374.3,457.5 377.9,450.6 C381.5,443.7 386.6,433.3 392.2,428.1 C397.8,422.9 404.1,419.4 412.6,417.9 C421.1,416.4 438.4,416 445.3,418.9 C452.2,421.8 452.6,430.9 455.5,436.3 C458.4,441.7 461.1,446.7 463.7,452.6 C466.3,458.5 469.3,467.2 471.9,473.1 C474.5,479 471.3,486.5 480,489.4 C488.7,492.3 517.7,494.8 526.2,491.5 C534.7,488.2 531.6,475.5 533.4,469 C535.2,462.5 534.9,456.8 537.5,450.6 C540.1,444.4 546.4,434.8 549.7,430.2 C553,425.6 553.6,424 557.9,422 C562.2,420 570.8,418.1 576.3,417.9 C581.8,417.7 587.4,418.1 592,421 C596.6,423.9 600.9,431.9 604.9,436.3 C608.9,440.7 613.9,444.3 617.2,448.6 C620.5,452.9 623.1,458.3 625.4,462.9 C627.7,467.5 629.2,472.6 631.5,477.2 C633.8,481.8 630.9,489.2 639.7,491.5 C648.5,493.8 677.4,496.1 686.5,491.5 C695.6,486.9 694.1,470.3 696.7,462.8 C699.3,455.3 700.2,449.6 702.8,444.4 C705.4,439.2 708.5,433.9 713.1,430.1 C717.7,426.3 725.6,421.7 731.5,420.9 C737.4,420.1 742.9,423.8 749.8,425 C756.7,426.2 769.2,425.6 774.4,428.1 C779.6,430.6 780.2,435.8 782.5,440.4 C784.8,445 786.7,451.5 788.7,456.7 C790.7,461.9 792.8,468.2 794.8,473.1 C796.8,478 793.1,485.5 801,487.4 C808.9,489.3 834,487 844,485 C854,483 859,477.2 863.5,475 C868,472.8 870.6,471.6 872,471"/>
<path class="cl" d="M290,492 C291.1,492.2 292.4,492.3 297,493.5 C301.6,494.7 308.7,498.6 319,499.6 C329.3,500.6 351.4,502.9 361.5,499.6 C371.6,496.3 373.8,484.4 382,479.2 C390.2,474 404.9,469 412.6,466.9 C420.3,464.8 424.1,465 430,466 C435.9,467 444,469.7 449.4,473.1 C454.8,476.5 458.8,483.5 463.7,487.4 C468.6,491.3 470.5,495.6 480,497.6 C489.5,499.6 514.3,501 523.2,499.7 C532.1,498.4 530.8,493.8 535.4,489.5 C540,485.2 547.9,477 551.8,473.1 C555.7,469.2 554.7,467 560,464.9 C565.3,462.8 576.8,458.7 585,460 C593.2,461.3 604.6,468.4 611.1,473.1 C617.6,477.8 620.8,485.4 625.4,489.5 C630,493.6 630.3,497.4 639.7,498.7 C649.1,500 675.3,498.8 684.4,497.6 C693.5,496.4 692.1,495.1 696.7,491.5 C701.3,487.9 708.5,478.9 713.1,475.1 C717.7,471.3 720.4,469 725.3,468 C730.2,467 738.5,469.3 743.7,469 C748.9,468.7 753.1,464.9 758,465.9 C762.9,466.9 769.8,471.7 774.4,475.1 C779,478.5 782.3,483.8 786.6,487.4 C790.9,491 791.8,496.1 801,497.6 C810.2,499.1 834,498 844,497 C854,496 859,492.8 863.5,491.5 C868,490.2 870.6,489.4 872,489"/>
<path class="cl" d="M290,518 C291.1,518.3 292.4,518.7 297,520 C301.6,521.3 308.4,528.2 318.6,526.2 C328.8,524.2 351.3,511.2 360.5,507.8 C369.7,504.4 367.5,505.2 375.8,504.7 C384.1,504.2 401.5,504.4 412.6,504.7 C423.7,505 437.1,505.6 445.3,506.8 C453.5,508 460.4,507.8 463.7,511.9 C467,516 463.2,528.7 465.8,532.3 C468.4,535.9 470.8,532.8 480,534.4 C489.2,536 513.7,542.1 523.2,542.6 C532.7,543.1 535.9,539.8 539.5,537.5 C543.1,535.2 543,530.9 545.6,528.3 C548.2,525.7 551.6,523.2 555.9,521.2 C560.2,519.2 564.7,517 572.2,516 C579.7,515 595,515.8 602.9,515 C610.8,514.2 617.9,509.7 621.3,510.9 C624.7,512.1 623.1,518.8 624.4,522.2 C625.7,525.6 627.1,530.1 629.5,532.4 C631.9,534.7 631.3,535.5 639.7,536.5 C648.1,537.5 673.2,538.2 682,538.5 C690.8,538.8 692.2,540.5 694.7,538.5 C697.2,536.5 696.7,530.1 697.7,526.2 C698.7,522.3 699,516.8 700.8,513.9 C702.6,511 703.8,509.1 709,507.8 C714.2,506.5 723,506.3 733.5,505.8 C744,505.3 763.6,505 774.4,504.7 C785.2,504.4 789.9,500.3 801,503.7 C812.1,507.1 834,523.7 844,526 C854,528.3 859,519.8 863.5,518 C868,516.2 870.6,515.5 872,515"/>
</g>
<path class="cl" d="M290,534 C291,534.3 293.1,535 297,536 C300.9,537 309.2,539.3 318,541 C326.8,542.7 353.4,546.2 360,548 C366.6,549.8 363.4,552.5 365,554.2 C366.6,555.9 368.8,556.6 371.1,560.3 C373.4,564 380.3,574.3 381.2,580.5 C382.1,586.7 377.5,598.9 377.2,604.9 C376.9,610.9 380.1,619.1 379.2,623.1 C378.3,627.1 373.6,629 371.1,633.3 C368.6,637.6 362.4,648.1 361,653.5 C359.6,658.9 359.6,666.1 361,671.8 C362.4,677.5 367.4,689 371.1,694.1 C374.8,699.2 382.5,705.3 387.3,708.3 C392.1,711.3 399.8,714.6 405.5,715.4 C411.2,716.2 422.4,715.4 427.8,714.3 C433.2,713.2 440.7,710 444.1,707.2 C447.5,704.4 451.1,697.6 452.2,694.1 C453.3,690.6 451.3,685 452.2,681.9 C453.1,678.8 454.9,674.5 458.3,671.8 C461.7,669.1 470.8,664.3 476.5,662.6 C482.2,660.9 492.3,659.4 498.8,659.6 C505.3,659.8 515.4,662 523.1,663.7 C530.8,665.4 546.2,669.9 553.5,671.8 C560.8,673.7 569.8,676.5 575,677.5 C580.2,678.5 583.9,679.6 590.3,678.9 C596.7,678.2 612.2,675.1 620.7,672.8 C629.2,670.5 644.9,664.7 651.1,662.6 C657.3,660.5 660.8,657.2 665.3,657.6 C669.8,658 675.8,662.9 683.5,665.7 C691.2,668.5 714,674.4 720,677.8 C726,681.2 722.7,686.7 726.1,690 C729.5,693.3 739.2,699.9 744.3,701.2 C749.4,702.5 757.8,700.9 762.6,699.1 C767.4,697.3 775.5,693.2 778.8,688 C782.1,682.8 785.3,670.4 785.9,661.6 C786.5,652.8 782.3,633.6 782.9,625.1 C783.5,616.6 789.7,607 790,600.8 C790.3,594.6 784.5,587 784.9,580.5 C785.3,574 790.7,558.5 793,554.2 C795.3,549.9 794,551.9 801.1,550.1 C808.2,548.3 835.3,543.2 844,541 C852.7,538.8 859.2,535.8 863.5,534.4 C867.8,533 873.4,531.5 875,531" style="stroke:#2f6a95;stroke-width:1.5"/>
<path class="cl" d="M295,979.5 C295.9,979.6 299.4,980.2 304,981 C308.6,981.8 333.1,985.7 340.8,987.2 C348.5,988.8 375.2,995.8 381.3,996.5 C387.4,997.2 395.5,993.9 401.6,994 C407.7,994.1 429.9,997 442.1,997.3 C454.3,997.6 509,996.9 523.2,997.3 C537.4,997.7 572.6,1000.1 584,1001.3 C595.4,1002.5 626.6,1007.5 636.7,1009.4 C646.8,1011.3 678.4,1019.8 685.3,1020.4 C692.2,1021 699.5,1018.6 705.6,1015.5 C711.7,1012.4 738,994.3 746.1,989.2 C754.2,984.1 780.8,968.8 786.7,964.9 C792.6,961 801.7,951.3 804.9,950.7 C808.1,950.1 814.8,956.8 819.1,958.8 C823.4,960.8 842.6,969.4 847.5,970.9 C852.4,972.4 865.1,973.4 868,973.8 C870.9,974.2 875.2,974.4 876,974.5" style="stroke:#2f6a95;stroke-width:1.6"/>
<path d="M756.5,1092.5 L759,1085.5 L760.5,1092.5 Z M757,1090.5 H761" fill="none" stroke="#44607a" stroke-width=".9" stroke-opacity=".8"/>
<circle cx="352.8" cy="610" r="1.3" fill="#2f5f87" fill-opacity=".8"/>
</g>
<path fill="#fff" d="M286,136 L297,153.3 L304.3,1182.2 L286,1194 Z M861.3,150 L880,136 L880,1194 L867.6,1182.2 Z M286,136 L880,136 L861.3,150 L297,153.3 Z M304.3,1182.2 L867.6,1182.2 L880,1194 L286,1194 Z"/>
<clipPath id="cpga0"><rect x="318" y="492.8" width="42.7" height="61.8"/></clipPath>
<rect x="318" y="492.8" width="42.7" height="61.8" fill="url(#ga0)"/><g clip-path="url(#cpga0)" stroke="#2c3e55" stroke-opacity="0.33" stroke-width=".8"><line x1="318" y1="494.4" x2="360.7" y2="500.7"/><line x1="318" y1="499.2" x2="360.7" y2="505.4"/><line x1="318" y1="504" x2="360.7" y2="510.2"/><line x1="318" y1="508.7" x2="360.7" y2="514.9"/><line x1="318" y1="513.5" x2="360.7" y2="519.7"/><line x1="318" y1="518.2" x2="360.7" y2="524.4"/><line x1="318" y1="523" x2="360.7" y2="529.2"/><line x1="318" y1="527.7" x2="360.7" y2="533.9"/><line x1="318" y1="532.5" x2="360.7" y2="538.7"/><line x1="318" y1="537.2" x2="360.7" y2="543.4"/><line x1="318" y1="542" x2="360.7" y2="548.2"/><line x1="318" y1="546.7" x2="360.7" y2="553"/></g>
<clipPath id="cpga1"><rect x="480.5" y="492.8" width="41.7" height="61.6"/></clipPath>
<rect x="480.5" y="492.8" width="41.7" height="61.6" fill="url(#ga1)"/><g clip-path="url(#cpga1)" stroke="#2c3e55" stroke-opacity="0.33" stroke-width=".8"><line x1="480.5" y1="497.5" x2="522.2" y2="497.5"/><line x1="480.5" y1="502.3" x2="522.2" y2="502.3"/><line x1="480.5" y1="507" x2="522.2" y2="507"/><line x1="480.5" y1="511.8" x2="522.2" y2="511.8"/><line x1="480.5" y1="516.5" x2="522.2" y2="516.5"/><line x1="480.5" y1="521.2" x2="522.2" y2="521.2"/><line x1="480.5" y1="526" x2="522.2" y2="526"/><line x1="480.5" y1="530.7" x2="522.2" y2="530.7"/><line x1="480.5" y1="535.4" x2="522.2" y2="535.4"/><line x1="480.5" y1="540.2" x2="522.2" y2="540.2"/><line x1="480.5" y1="544.9" x2="522.2" y2="544.9"/><line x1="480.5" y1="549.7" x2="522.2" y2="549.7"/></g>
<clipPath id="cpga2"><rect x="639.5" y="492.8" width="42.1" height="61.6"/></clipPath>
<rect x="639.5" y="492.8" width="42.1" height="61.6" fill="url(#ga2)"/><g clip-path="url(#cpga2)" stroke="#2c3e55" stroke-opacity="0.33" stroke-width=".8"><line x1="639.5" y1="497.5" x2="681.6" y2="497.5"/><line x1="639.5" y1="502.3" x2="681.6" y2="502.3"/><line x1="639.5" y1="507" x2="681.6" y2="507"/><line x1="639.5" y1="511.8" x2="681.6" y2="511.8"/><line x1="639.5" y1="516.5" x2="681.6" y2="516.5"/><line x1="639.5" y1="521.2" x2="681.6" y2="521.2"/><line x1="639.5" y1="526" x2="681.6" y2="526"/><line x1="639.5" y1="530.7" x2="681.6" y2="530.7"/><line x1="639.5" y1="535.4" x2="681.6" y2="535.4"/><line x1="639.5" y1="540.2" x2="681.6" y2="540.2"/><line x1="639.5" y1="544.9" x2="681.6" y2="544.9"/><line x1="639.5" y1="549.7" x2="681.6" y2="549.7"/></g>
<clipPath id="cpga3"><rect x="802" y="491.3" width="42" height="61.1"/></clipPath>
<rect x="802" y="491.3" width="42" height="61.1" fill="url(#ga3)"/><g clip-path="url(#cpga3)" stroke="#2c3e55" stroke-opacity="0.33" stroke-width=".8"><line x1="802" y1="499.1" x2="844" y2="492.9"/><line x1="802" y1="503.8" x2="844" y2="497.6"/><line x1="802" y1="508.5" x2="844" y2="502.3"/><line x1="802" y1="513.2" x2="844" y2="507"/><line x1="802" y1="517.9" x2="844" y2="511.7"/><line x1="802" y1="522.6" x2="844" y2="516.4"/><line x1="802" y1="527.3" x2="844" y2="521.1"/><line x1="802" y1="532" x2="844" y2="525.8"/><line x1="802" y1="536.7" x2="844" y2="530.5"/><line x1="802" y1="541.4" x2="844" y2="535.2"/><line x1="802" y1="546.1" x2="844" y2="539.9"/><line x1="802" y1="550.8" x2="844" y2="544.6"/></g>
<text class="la" x="588" y="212.5" text-anchor="middle" transform="rotate(-2 588 212.5)">0.14</text>
<text class="la" x="575" y="257.5" text-anchor="middle">0.13</text>
<text class="la" x="584" y="297.5" text-anchor="middle">0.11</text>
<text class="la" x="569" y="337.5" text-anchor="middle">0.1</text>
<text class="la" x="575.8" y="380" text-anchor="middle">0.09</text>
<text class="la" x="574.3" y="405" text-anchor="middle">0.08</text>
<text class="la" x="576.3" y="444.6" text-anchor="middle">0.07</text>
<text class="la" x="583.4" y="483.3" text-anchor="middle">0.06</text>
<text class="la" x="580.4" y="516" text-anchor="middle">0.05</text>
<text class="la" x="582.4" y="551.8" text-anchor="middle">0.04</text>
<text class="la" x="500.1" y="457.8" text-anchor="middle">0.08</text>
<text class="la" x="663.3" y="458" text-anchor="middle">0.08</text>
<text class="la" x="420" y="487" text-anchor="middle" transform="rotate(-14 420 487)">0.06</text>
<text class="la" x="405.5" y="539.5" text-anchor="middle">0.04</text>
<text class="la" x="502" y="515.3" text-anchor="middle">0.09</text>
<text class="la" x="498" y="551.8" text-anchor="middle">0.03</text>
<text class="la" x="663.5" y="520" text-anchor="middle">0.08</text>
<text class="la" x="662.6" y="551.8" text-anchor="middle">0.02</text>
<rect x="319.5" y="494.3" width="39.7" height="58.8" fill="none" stroke="#0b0f1a" stroke-width="3.2"/>
<rect x="482.0" y="494.3" width="38.7" height="58.6" fill="none" stroke="#0b0f1a" stroke-width="3.2"/>
<rect x="641.0" y="494.3" width="39.1" height="58.6" fill="none" stroke="#0b0f1a" stroke-width="3.2"/>
<rect x="803.5" y="492.8" width="39" height="58.1" fill="none" stroke="#0b0f1a" stroke-width="3.2"/>
</g>
<g filter="url(#bl)">
<g clip-path="url(#cb2)">
<rect x="900" y="140" width="580" height="420" fill="#b8162e"/>
<path d="M900,205 C900.8,205 892.2,205.4 905,204.7 C917.8,204 958.1,201.5 980,200.5 C1001.9,199.5 1022.8,198.9 1042,198.3 C1061.2,197.7 1080.5,197.1 1100,196.8 C1119.5,196.5 1147,196.3 1163.7,196.3 C1180.4,196.3 1187.3,196.5 1204.3,196.6 C1221.3,196.7 1250.5,196.8 1270,197 C1289.5,197.2 1305.1,197.2 1325.9,197.6 C1346.7,198 1376.6,198.9 1400,199.5 C1423.4,200.1 1459.5,201.1 1472,201.5 C1484.5,201.9 1477,201.7 1478,201.7 L1478,560 L900,560 Z" fill="#cc4742"/>
<path d="M900,235.3 C900.8,235.3 882.3,235.6 905,235.1 C927.7,234.6 1000.6,232.9 1042,231.9 C1083.4,230.9 1124.8,229.3 1163.7,229 C1202.6,228.7 1235.7,229.2 1285,229.8 C1334.3,230.4 1441.1,232.5 1472,233 C1502.9,233.5 1477,233.1 1478,233.1 L1478,560 L900,560 Z" fill="#e47757"/>
<path d="M900,259.5 C900.8,259.5 882.3,259.9 905,259.4 C927.7,258.9 1000.6,257 1042,256.2 C1083.4,255.4 1124.8,254.9 1163.7,254.6 C1202.6,254.3 1235.7,254 1285,254.6 C1334.3,255.2 1441.1,257.6 1472,258.2 C1502.9,258.8 1477,258.3 1478,258.3 L1478,560 L900,560 Z" fill="#f29e7c"/>
<path d="M900,284 C900.8,284 888.7,284.4 905,283.7 C921.3,283 966.7,281 1001.6,279.7 C1036.5,278.4 1090.6,276 1123,275.6 C1155.4,275.2 1178.1,276.6 1204,276.9 C1229.9,277.2 1269.4,277.1 1285,277.7 C1300.6,278.3 1296.4,280.5 1301.6,280.5 C1306.8,280.5 1300.9,277.8 1317.8,277.7 C1334.7,277.6 1382.3,278.9 1407,279.7 C1431.7,280.5 1460.6,282 1472,282.5 C1483.4,283 1477,282.8 1478,282.8 L1478,560 L900,560 Z" fill="#f9c3ab"/>
<path d="M900,310.5 C900.8,310.4 888.7,311.3 905,310.1 C921.3,308.9 973.2,304.5 1001.6,303.2 C1030,301.9 1056.8,302.5 1082.7,302 C1108.6,301.5 1144.3,300.2 1163.7,300 C1183.1,299.8 1191,299.8 1204,300.8 C1217,301.8 1233.1,304.3 1244.8,306 C1256.5,307.7 1265.5,311.3 1277.2,311.3 C1288.9,311.3 1306.8,307.8 1317.8,306 C1328.8,304.2 1331.7,300.4 1346,300 C1360.3,299.6 1386.8,301.8 1407,303.2 C1427.2,304.6 1460.6,307.9 1472,308.9 C1483.4,309.9 1477,309.4 1478,309.5 L1478,560 L900,560 Z" fill="#fcdccb"/>
<path d="M900,339.3 C900.8,339.2 895.2,339.9 905,338.5 C914.8,337.1 942.3,332.5 961,330.4 C979.7,328.3 1002.4,326 1021.9,325.5 C1041.4,325 1069.1,327.7 1082.7,327.5 C1096.3,327.3 1099.2,324.3 1107,324.3 C1114.8,324.3 1121.6,327.3 1131.3,327.5 C1141,327.7 1155.5,325.7 1167.8,325.5 C1180.1,325.3 1199.2,324.7 1208.3,326.3 C1217.4,327.9 1215.4,333.8 1224.5,335.6 C1233.6,337.4 1252.1,337.3 1265.1,337.3 C1278.1,337.3 1295.9,336.9 1305.6,335.6 C1315.3,334.3 1316.2,330.6 1325.9,329.1 C1335.6,327.6 1350.2,326.1 1366.4,326.3 C1382.6,326.5 1410.3,328.6 1427.2,330.4 C1444.1,332.2 1463.9,336.1 1472,337.3 C1480.1,338.5 1477,338.1 1478,338.2 L1478,560 L900,560 Z" fill="#fbe9df"/>
<path d="M900,379.5 C900.8,379.2 899.3,379.6 905,377.8 C910.7,376 924.1,371.9 935.5,368.4 C946.9,364.9 965.4,358.9 976,356.2 C986.6,353.5 991,352.8 1001.6,351.8 C1012.2,350.8 1032.3,349.6 1042,350 C1051.7,350.4 1055.1,352.2 1062.4,354 C1069.7,355.8 1080.3,360.3 1087.6,361.3 C1094.9,362.3 1101.4,361.4 1107.9,360.3 C1114.4,359.2 1122.5,355.2 1128,354.2 C1133.5,353.2 1136.6,353.3 1142.3,354 C1148,354.7 1153.8,358.5 1163.7,358.7 C1173.6,358.9 1192,355.1 1204.3,355 C1216.6,354.9 1230.1,357.2 1240.8,358.2 C1251.5,359.2 1263.1,361 1271.2,361.3 C1279.3,361.6 1283.4,361 1291.5,360.3 C1299.6,359.6 1310.6,357.7 1321.9,357.2 C1333.2,356.7 1351.7,357.5 1362.4,357.2 C1373.1,356.9 1380.7,354.7 1388.8,355.2 C1396.9,355.7 1404.3,358 1413.1,360.3 C1421.9,362.6 1434.1,367 1443.5,369.4 C1452.9,371.8 1466.5,374.3 1472,375.5 C1477.5,376.7 1477,376.6 1478,376.8 L1478,560 L900,560 Z" fill="#f7f7f9"/>
<path d="M900,466 C900.8,466.6 902.4,467.6 905,469.7 C907.6,471.8 912.7,476.1 916,479 C919.3,481.9 917.6,485.9 925.4,488 C933.2,490.1 958,494.9 965,492 C972,489.1 969,477.2 969,469.7 C969,462.2 966,455.1 965,445.4 C964,435.7 961.1,417 962.9,408.9 C964.7,400.8 970.7,398.9 976.1,394.7 C981.5,390.5 989.3,385.5 996.4,382.6 C1003.5,379.7 1012.6,377 1020.7,376.5 C1028.8,376 1039.5,377.9 1047,379.5 C1054.5,381.1 1061.5,385.1 1067.3,386.6 C1073.1,388.1 1077.5,388 1083.5,388.7 C1089.5,389.4 1098.2,390.8 1105,391 C1111.8,391.2 1119.2,391.4 1126.1,389.7 C1133,388 1140,382.6 1148.4,380.5 C1156.8,378.4 1168.9,377 1178.8,376.5 C1188.7,376 1201.1,376.4 1210.4,377.5 C1219.7,378.6 1228.7,381.6 1236.8,383.6 C1244.9,385.6 1253,388.7 1261.1,389.7 C1269.2,390.7 1279.3,390.7 1287.4,389.7 C1295.5,388.7 1303.7,385.6 1311.8,383.6 C1319.9,381.6 1330,378.2 1338.1,377.5 C1346.2,376.8 1355.3,378.4 1362.4,379.5 C1369.5,380.6 1376.2,382.2 1382.7,384.6 C1389.2,387 1397.8,391.5 1403,394.7 C1408.2,397.9 1412.9,400 1415.2,404.9 C1417.5,409.8 1417.9,419.9 1417.2,425.1 C1416.5,430.3 1412.2,432.1 1411.1,437.3 C1410,442.5 1410.8,452.1 1410.1,457.6 C1409.4,463.1 1406.5,467.3 1407,471.8 C1407.5,476.3 1411.7,482.9 1413.1,486 C1414.5,489.1 1409.8,490.7 1416,491 C1422.2,491.3 1444.6,491.4 1451.6,488 C1458.6,484.6 1456.7,474.2 1460,470 C1463.3,465.8 1469.1,463.5 1472,461.6 C1474.9,459.7 1477,458.6 1478,458 L1478,560 L900,560 Z" fill="#e3edf5"/>
<path d="M900,477 C900.8,477.5 900.9,477.8 905,479.9 C909.1,482 915.3,488.1 925.4,490 C935.5,491.9 959.2,495.2 968,492 C976.8,488.8 976.5,477.8 980.1,469.7 C983.7,461.6 986.7,449.5 990.3,441.4 C993.9,433.3 999.2,424.3 1002.4,419.1 C1005.6,413.9 1006.1,411.5 1010.5,408.9 C1014.9,406.3 1022.5,402 1030,403 C1037.5,404 1051.6,409.8 1057.2,415 C1062.8,420.2 1063,427.8 1065.3,435.3 C1067.6,442.8 1068.8,454.1 1071.4,461.6 C1074,469.1 1078.9,477 1081.5,481.9 C1084.1,486.8 1079.5,490.1 1087.6,492 C1095.7,493.9 1123.6,494.1 1132.2,494 C1140.8,493.9 1139.3,496.9 1141.3,491.6 C1143.3,486.3 1143.6,469.4 1144.6,460.8 C1145.6,452.2 1146,444.3 1147.8,438.1 C1149.6,431.9 1152.8,426 1155.9,421.9 C1159,417.8 1162.9,414.4 1167.3,412.2 C1171.7,410 1178.3,408.1 1183.5,408.1 C1188.7,408.1 1195,410 1199.7,412.2 C1204.4,414.4 1209.6,418.3 1212.7,421.9 C1215.8,425.5 1216.9,430.8 1219.2,434.9 C1221.5,439 1225.2,442.6 1227.3,447.8 C1229.4,453 1230.1,461.6 1232.2,467.3 C1234.3,473 1237.8,479.4 1240.3,483.5 C1242.8,487.6 1239.4,492 1247.6,493.2 C1255.8,494.4 1282.5,494.4 1291.5,491 C1300.5,487.6 1301.1,478.4 1303.7,471.8 C1306.3,465.2 1306.1,456.3 1307.7,449.5 C1309.3,442.7 1310.9,434.4 1313.8,429.2 C1316.7,424 1321.5,420.1 1326,417 C1330.5,413.9 1336.4,410.7 1342.2,409.9 C1348,409.1 1355.9,410.2 1362.4,412 C1368.9,413.8 1378.2,417.4 1382.7,421.1 C1387.2,424.8 1388.8,428.8 1390.8,435.3 C1392.8,441.8 1392.9,454.1 1394.9,461.6 C1396.9,469.1 1400.7,477.2 1403,481.9 C1405.3,486.6 1401.3,489.4 1409.1,491 C1416.9,492.6 1441.5,495 1451.6,492 C1461.7,489 1467.8,476 1472,472 C1476.2,468 1477,467.8 1478,467 L1478,560 L900,560 Z" fill="#d3e5f0"/>
<path d="M900,488.5 C900.8,488.7 900.9,489.1 905,490 C909.1,490.9 915.3,492.4 925.4,494 C935.5,495.6 959.2,502 968,500.1 C976.8,498.2 975.6,487.7 980.1,481.9 C984.6,476.1 991.9,467.9 996.4,463.7 C1000.9,459.5 1003.3,458.6 1008.5,455.5 C1013.7,452.4 1022.6,445 1028.8,444.4 C1035,443.8 1042.8,447.5 1047,451.5 C1051.2,455.5 1051.9,464.8 1055.1,469.7 C1058.3,474.6 1063.1,477.7 1067.3,481.9 C1071.5,486.1 1078.4,493.2 1081.5,496.1 C1084.6,499 1078.7,500 1086.6,500.1 C1094.5,500.2 1122,498.2 1130.8,497 C1139.6,495.8 1138.1,496 1141.3,492.5 C1144.5,489 1148,480.5 1151.1,475.4 C1154.2,470.3 1157.2,464.9 1160.8,460.8 C1164.4,456.7 1170.2,452 1173.8,449.5 C1177.4,447 1180.4,445.9 1183.5,445.4 C1186.6,444.9 1189,444.8 1193.2,446.2 C1197.4,447.6 1205.9,451.2 1209.5,454.3 C1213.1,457.4 1213.3,462.1 1215.9,465.7 C1218.5,469.3 1222.8,473.6 1225.7,477 C1228.6,480.4 1230.3,483.4 1233.8,486.8 C1237.3,490.2 1238.4,496 1247.6,498.1 C1256.8,500.2 1282.2,501.4 1291.5,500.1 C1300.8,498.8 1301.5,494.2 1305.7,490 C1309.9,485.8 1313.9,479.3 1317.8,473.8 C1321.7,468.3 1326.8,459.4 1330,455.5 C1333.2,451.6 1332.9,450.5 1338.1,449.5 C1343.3,448.5 1356.6,448.5 1362.4,449.5 C1368.2,450.5 1371.4,452.3 1374.6,455.5 C1377.8,458.7 1379.8,464.8 1382.7,469.7 C1385.6,474.6 1388.7,481.1 1392.9,486 C1397.1,490.9 1399.7,498.3 1409.1,500.1 C1418.5,501.9 1441.5,499.9 1451.6,497 C1461.7,494.1 1467.8,485 1472,482 C1476.2,479 1477,478.6 1478,478 L1478,560 L900,560 Z" fill="#b2d3e8"/>
<path d="M900,499.5 C900.8,499.6 900.9,499.4 905,500 C909.1,500.6 915.3,502.9 925.4,503 C935.5,503.1 958.3,502.3 968,500.5 C977.7,498.7 980,492.9 986.2,492 C992.4,491.1 1000,495.3 1006.5,495.1 C1013,494.9 1020.3,492.1 1026.8,491 C1033.3,489.9 1040.5,487.8 1047,488 C1053.5,488.2 1061,489.7 1067.3,492 C1073.6,494.3 1076.6,501.2 1086.6,502.2 C1096.6,503.2 1120.5,498.6 1130,498.5 C1139.5,498.4 1142.3,500.6 1146.2,501.4 C1150.1,502.2 1151.7,503.7 1154.3,503.3 C1156.9,502.9 1159.8,500.4 1162.4,498.9 C1165,497.4 1163.2,495.4 1170.5,494.1 C1177.8,492.8 1199,491.2 1207.8,490.8 C1216.6,490.4 1219.3,490.2 1225.7,491.6 C1232.1,493 1237.1,498.3 1247.6,499.7 C1258.1,501.1 1281.2,501.7 1291.5,500.5 C1301.8,499.3 1303.7,493.8 1311.8,492 C1319.9,490.2 1332.5,489.5 1342.2,489 C1351.9,488.5 1364.5,488.2 1372.6,489 C1380.7,489.8 1387.1,492.3 1392.9,494.1 C1398.7,495.9 1399.7,499.6 1409.1,500.5 C1418.5,501.4 1441.5,500.9 1451.6,500 C1461.7,499.1 1467.8,496 1472,495 C1476.2,494 1477,493.7 1478,493.5 L1478,560 L900,560 Z" fill="#84b8db"/>
<path d="M900,517.5 C900.8,517.6 900.9,517.6 905,518.4 C909.1,519.2 915.3,521.4 925.4,522.4 C935.5,523.4 956.6,525.1 968,524.5 C979.4,523.9 988,520 996.4,518.4 C1004.8,516.8 1011,515 1020.7,514.3 C1030.4,513.6 1050.4,514.6 1057.2,514.3 C1064,514 1060.1,511 1063.3,512.3 C1066.5,513.6 1073.8,520 1077.5,522.4 C1081.2,524.8 1078.2,527 1086.6,527.5 C1095,528 1119.7,526.2 1130,525.7 C1140.3,525.2 1145.1,525.1 1151.1,524.1 C1157.1,523.1 1159.5,520.4 1167.3,519.2 C1175.1,518 1190.4,517.6 1199.7,516.8 C1209,516 1220.5,513.9 1225.7,514.3 C1230.9,514.7 1228.7,517.6 1232.2,519.2 C1235.7,520.8 1238.1,522.6 1247.6,524.1 C1257.1,525.6 1281.2,529.1 1291.5,528.5 C1301.8,527.9 1305.3,522.3 1311.8,520.4 C1318.3,518.5 1323.9,517 1332,516.4 C1340.1,515.8 1354.3,517.1 1362.4,516.4 C1370.5,515.7 1375.2,511.3 1382.7,512.3 C1390.2,513.3 1398.1,520.8 1409.1,522.4 C1420.1,524 1441.5,523.7 1451.6,522 C1461.7,520.3 1467.8,514.1 1472,512 C1476.2,509.9 1477,509.5 1478,509 L1478,560 L900,560 Z" fill="#5e9fd0"/>
<path d="M900,527 C900.8,527.6 900.9,527.8 905,530.6 C909.1,533.4 915.3,542.1 925.4,544.7 C935.5,547.3 958.3,547.4 968,546.8 C977.7,546.2 980,542.7 986.2,540.7 C992.4,538.7 995.1,535.6 1006.5,534.6 C1017.9,533.6 1046.8,533.9 1057.2,534.6 C1067.6,535.3 1066.7,536.7 1071.4,538.7 C1076.1,540.7 1077.2,545.8 1086.6,546.8 C1096,547.8 1121,546.1 1130,545.1 C1139,544.1 1137,542.1 1143,540.3 C1149,538.5 1156.1,534.6 1167.3,533.8 C1178.5,533 1202.3,534.1 1212.7,535.4 C1223.1,536.7 1226.6,540.1 1232.2,541.9 C1237.8,543.7 1238.1,545.7 1247.6,546.8 C1257.1,547.9 1282.2,549.5 1291.5,548.8 C1300.8,548.1 1300.2,545 1305.7,542.7 C1311.2,540.4 1316.9,535.9 1326,534.6 C1335.1,533.3 1353.3,533.9 1362.4,534.6 C1371.5,535.3 1375.2,536.4 1382.7,538.7 C1390.2,541 1398.1,547.3 1409.1,548.8 C1420.1,550.3 1441.5,551 1451.6,548 C1461.7,545 1467.8,533.7 1472,530 C1476.2,526.3 1477,525.8 1478,525 L1478,560 L900,560 Z" fill="#3d83be"/>
<path d="M966,505.5 C967,505.1 978.5,507.5 979,508 C979.5,508.5 973,511.1 972,511.5 C971,511.9 966.5,513.5 966,513 C965.5,512.5 965,505.9 966,505.5 Z" fill="#5e9fd0" stroke="#55555a" stroke-opacity=".7" stroke-width="1"/>
<path d="M1410,505.5 C1409,505.1 1397.5,507.5 1397,508 C1396.5,508.5 1403,511.1 1404,511.5 C1405,511.9 1409.5,513.5 1410,513 C1410.5,512.5 1411,505.9 1410,505.5 Z" fill="#5e9fd0" stroke="#55555a" stroke-opacity=".7" stroke-width="1"/>
<path d="M1085.6,492 C1081.9,490.4 1081.3,475.2 1081.5,471.8 C1081.7,468.4 1085.7,452.4 1087.6,449.5 C1089.5,446.6 1102.7,435.5 1105.8,435.3 C1108.9,435.1 1123.9,444.6 1126.1,447.4 C1128.3,450.2 1133,466.1 1133.2,469.7 C1133.4,473.3 1131.9,490.2 1128.1,492 C1124.3,493.8 1089.3,493.6 1085.6,492 Z" fill="#f8f6f6" stroke="#55555a" stroke-opacity=".7" stroke-width="1"/>
<path d="M1246.9,492 C1243.2,489.9 1242.3,469.4 1242.8,465.7 C1243.3,462 1250.9,448.2 1253,445.4 C1255.1,442.6 1266.3,430.5 1269.2,430.2 C1272.1,429.9 1287.5,438.6 1289.5,441.4 C1291.5,444.2 1294.5,461.7 1294.5,465.7 C1294.5,469.7 1293.3,489.9 1289.5,492 C1285.7,494.1 1250.6,494.1 1246.9,492 Z" fill="#f8f6f6" stroke="#55555a" stroke-opacity=".7" stroke-width="1"/>
<path d="M1094,492 C1092.1,490.6 1094,476.3 1095,474 C1096,471.7 1104.2,463 1106,463 C1107.8,463 1116,471.7 1117,474 C1118,476.3 1120.8,490.6 1119,492 C1117.2,493.4 1095.9,493.4 1094,492 Z" fill="#fbeae1" stroke="#55555a" stroke-opacity=".7" stroke-width="1"/>
<path d="M1255,492 C1252.8,490.6 1252.2,476.4 1253,474 C1253.8,471.6 1262.9,462 1265,462 C1267.1,462 1277.7,471.6 1279,474 C1280.3,476.4 1282.9,490.6 1281,492 C1279.1,493.4 1257.2,493.4 1255,492 Z" fill="#fbeae1" stroke="#55555a" stroke-opacity=".7" stroke-width="1"/>
<path d="M934.5,473.8 C934.8,472.6 945,462.8 945.7,462.6 C946.4,462.4 952.5,468.5 952.8,469.7 C953.1,470.9 954.4,491.1 953.8,492 C953.2,492.9 939.4,492.7 938.6,492 C937.8,491.3 934.2,475 934.5,473.8 Z" fill="#fde6db" stroke="#6b625f" stroke-opacity=".6" stroke-width=".9"/>
<path d="M1423.3,492 C1422.7,491.1 1423,471 1423.3,469.7 C1423.6,468.4 1429.8,460.6 1430.4,460.6 C1431,460.6 1438.2,468.4 1438.5,469.7 C1438.8,471 1438.1,491.1 1437.5,492 C1436.9,492.9 1423.9,492.9 1423.3,492 Z" fill="#fde6db" stroke="#6b625f" stroke-opacity=".6" stroke-width=".9"/>
<g clip-path="url(#xb)">
<path class="cl" d="M900,205 C900.8,205 892.2,205.4 905,204.7 C917.8,204 958.1,201.5 980,200.5 C1001.9,199.5 1022.8,198.9 1042,198.3 C1061.2,197.7 1080.5,197.1 1100,196.8 C1119.5,196.5 1147,196.3 1163.7,196.3 C1180.4,196.3 1187.3,196.5 1204.3,196.6 C1221.3,196.7 1250.5,196.8 1270,197 C1289.5,197.2 1305.1,197.2 1325.9,197.6 C1346.7,198 1376.6,198.9 1400,199.5 C1423.4,200.1 1459.5,201.1 1472,201.5 C1484.5,201.9 1477,201.7 1478,201.7"/>
<path class="cl" d="M900,235.3 C900.8,235.3 882.3,235.6 905,235.1 C927.7,234.6 1000.6,232.9 1042,231.9 C1083.4,230.9 1124.8,229.3 1163.7,229 C1202.6,228.7 1235.7,229.2 1285,229.8 C1334.3,230.4 1441.1,232.5 1472,233 C1502.9,233.5 1477,233.1 1478,233.1"/>
<path class="cl" d="M900,259.5 C900.8,259.5 882.3,259.9 905,259.4 C927.7,258.9 1000.6,257 1042,256.2 C1083.4,255.4 1124.8,254.9 1163.7,254.6 C1202.6,254.3 1235.7,254 1285,254.6 C1334.3,255.2 1441.1,257.6 1472,258.2 C1502.9,258.8 1477,258.3 1478,258.3"/>
<path class="cl" d="M900,284 C900.8,284 888.7,284.4 905,283.7 C921.3,283 966.7,281 1001.6,279.7 C1036.5,278.4 1090.6,276 1123,275.6 C1155.4,275.2 1178.1,276.6 1204,276.9 C1229.9,277.2 1269.4,277.1 1285,277.7 C1300.6,278.3 1296.4,280.5 1301.6,280.5 C1306.8,280.5 1300.9,277.8 1317.8,277.7 C1334.7,277.6 1382.3,278.9 1407,279.7 C1431.7,280.5 1460.6,282 1472,282.5 C1483.4,283 1477,282.8 1478,282.8"/>
<path class="cl" d="M900,310.5 C900.8,310.4 888.7,311.3 905,310.1 C921.3,308.9 973.2,304.5 1001.6,303.2 C1030,301.9 1056.8,302.5 1082.7,302 C1108.6,301.5 1144.3,300.2 1163.7,300 C1183.1,299.8 1191,299.8 1204,300.8 C1217,301.8 1233.1,304.3 1244.8,306 C1256.5,307.7 1265.5,311.3 1277.2,311.3 C1288.9,311.3 1306.8,307.8 1317.8,306 C1328.8,304.2 1331.7,300.4 1346,300 C1360.3,299.6 1386.8,301.8 1407,303.2 C1427.2,304.6 1460.6,307.9 1472,308.9 C1483.4,309.9 1477,309.4 1478,309.5"/>
<path class="cl" d="M900,339.3 C900.8,339.2 895.2,339.9 905,338.5 C914.8,337.1 942.3,332.5 961,330.4 C979.7,328.3 1002.4,326 1021.9,325.5 C1041.4,325 1069.1,327.7 1082.7,327.5 C1096.3,327.3 1099.2,324.3 1107,324.3 C1114.8,324.3 1121.6,327.3 1131.3,327.5 C1141,327.7 1155.5,325.7 1167.8,325.5 C1180.1,325.3 1199.2,324.7 1208.3,326.3 C1217.4,327.9 1215.4,333.8 1224.5,335.6 C1233.6,337.4 1252.1,337.3 1265.1,337.3 C1278.1,337.3 1295.9,336.9 1305.6,335.6 C1315.3,334.3 1316.2,330.6 1325.9,329.1 C1335.6,327.6 1350.2,326.1 1366.4,326.3 C1382.6,326.5 1410.3,328.6 1427.2,330.4 C1444.1,332.2 1463.9,336.1 1472,337.3 C1480.1,338.5 1477,338.1 1478,338.2"/>
<path class="cl" d="M900,379.5 C900.8,379.2 899.3,379.6 905,377.8 C910.7,376 924.1,371.9 935.5,368.4 C946.9,364.9 965.4,358.9 976,356.2 C986.6,353.5 991,352.8 1001.6,351.8 C1012.2,350.8 1032.3,349.6 1042,350 C1051.7,350.4 1055.1,352.2 1062.4,354 C1069.7,355.8 1080.3,360.3 1087.6,361.3 C1094.9,362.3 1101.4,361.4 1107.9,360.3 C1114.4,359.2 1122.5,355.2 1128,354.2 C1133.5,353.2 1136.6,353.3 1142.3,354 C1148,354.7 1153.8,358.5 1163.7,358.7 C1173.6,358.9 1192,355.1 1204.3,355 C1216.6,354.9 1230.1,357.2 1240.8,358.2 C1251.5,359.2 1263.1,361 1271.2,361.3 C1279.3,361.6 1283.4,361 1291.5,360.3 C1299.6,359.6 1310.6,357.7 1321.9,357.2 C1333.2,356.7 1351.7,357.5 1362.4,357.2 C1373.1,356.9 1380.7,354.7 1388.8,355.2 C1396.9,355.7 1404.3,358 1413.1,360.3 C1421.9,362.6 1434.1,367 1443.5,369.4 C1452.9,371.8 1466.5,374.3 1472,375.5 C1477.5,376.7 1477,376.6 1478,376.8"/>
<path class="cl" d="M900,466 C900.8,466.6 902.4,467.6 905,469.7 C907.6,471.8 912.7,476.1 916,479 C919.3,481.9 917.6,485.9 925.4,488 C933.2,490.1 958,494.9 965,492 C972,489.1 969,477.2 969,469.7 C969,462.2 966,455.1 965,445.4 C964,435.7 961.1,417 962.9,408.9 C964.7,400.8 970.7,398.9 976.1,394.7 C981.5,390.5 989.3,385.5 996.4,382.6 C1003.5,379.7 1012.6,377 1020.7,376.5 C1028.8,376 1039.5,377.9 1047,379.5 C1054.5,381.1 1061.5,385.1 1067.3,386.6 C1073.1,388.1 1077.5,388 1083.5,388.7 C1089.5,389.4 1098.2,390.8 1105,391 C1111.8,391.2 1119.2,391.4 1126.1,389.7 C1133,388 1140,382.6 1148.4,380.5 C1156.8,378.4 1168.9,377 1178.8,376.5 C1188.7,376 1201.1,376.4 1210.4,377.5 C1219.7,378.6 1228.7,381.6 1236.8,383.6 C1244.9,385.6 1253,388.7 1261.1,389.7 C1269.2,390.7 1279.3,390.7 1287.4,389.7 C1295.5,388.7 1303.7,385.6 1311.8,383.6 C1319.9,381.6 1330,378.2 1338.1,377.5 C1346.2,376.8 1355.3,378.4 1362.4,379.5 C1369.5,380.6 1376.2,382.2 1382.7,384.6 C1389.2,387 1397.8,391.5 1403,394.7 C1408.2,397.9 1412.9,400 1415.2,404.9 C1417.5,409.8 1417.9,419.9 1417.2,425.1 C1416.5,430.3 1412.2,432.1 1411.1,437.3 C1410,442.5 1410.8,452.1 1410.1,457.6 C1409.4,463.1 1406.5,467.3 1407,471.8 C1407.5,476.3 1411.7,482.9 1413.1,486 C1414.5,489.1 1409.8,490.7 1416,491 C1422.2,491.3 1444.6,491.4 1451.6,488 C1458.6,484.6 1456.7,474.2 1460,470 C1463.3,465.8 1469.1,463.5 1472,461.6 C1474.9,459.7 1477,458.6 1478,458"/>
<path class="cl" d="M900,477 C900.8,477.5 900.9,477.8 905,479.9 C909.1,482 915.3,488.1 925.4,490 C935.5,491.9 959.2,495.2 968,492 C976.8,488.8 976.5,477.8 980.1,469.7 C983.7,461.6 986.7,449.5 990.3,441.4 C993.9,433.3 999.2,424.3 1002.4,419.1 C1005.6,413.9 1006.1,411.5 1010.5,408.9 C1014.9,406.3 1022.5,402 1030,403 C1037.5,404 1051.6,409.8 1057.2,415 C1062.8,420.2 1063,427.8 1065.3,435.3 C1067.6,442.8 1068.8,454.1 1071.4,461.6 C1074,469.1 1078.9,477 1081.5,481.9 C1084.1,486.8 1079.5,490.1 1087.6,492 C1095.7,493.9 1123.6,494.1 1132.2,494 C1140.8,493.9 1139.3,496.9 1141.3,491.6 C1143.3,486.3 1143.6,469.4 1144.6,460.8 C1145.6,452.2 1146,444.3 1147.8,438.1 C1149.6,431.9 1152.8,426 1155.9,421.9 C1159,417.8 1162.9,414.4 1167.3,412.2 C1171.7,410 1178.3,408.1 1183.5,408.1 C1188.7,408.1 1195,410 1199.7,412.2 C1204.4,414.4 1209.6,418.3 1212.7,421.9 C1215.8,425.5 1216.9,430.8 1219.2,434.9 C1221.5,439 1225.2,442.6 1227.3,447.8 C1229.4,453 1230.1,461.6 1232.2,467.3 C1234.3,473 1237.8,479.4 1240.3,483.5 C1242.8,487.6 1239.4,492 1247.6,493.2 C1255.8,494.4 1282.5,494.4 1291.5,491 C1300.5,487.6 1301.1,478.4 1303.7,471.8 C1306.3,465.2 1306.1,456.3 1307.7,449.5 C1309.3,442.7 1310.9,434.4 1313.8,429.2 C1316.7,424 1321.5,420.1 1326,417 C1330.5,413.9 1336.4,410.7 1342.2,409.9 C1348,409.1 1355.9,410.2 1362.4,412 C1368.9,413.8 1378.2,417.4 1382.7,421.1 C1387.2,424.8 1388.8,428.8 1390.8,435.3 C1392.8,441.8 1392.9,454.1 1394.9,461.6 C1396.9,469.1 1400.7,477.2 1403,481.9 C1405.3,486.6 1401.3,489.4 1409.1,491 C1416.9,492.6 1441.5,495 1451.6,492 C1461.7,489 1467.8,476 1472,472 C1476.2,468 1477,467.8 1478,467"/>
<path class="cl" d="M900,488.5 C900.8,488.7 900.9,489.1 905,490 C909.1,490.9 915.3,492.4 925.4,494 C935.5,495.6 959.2,502 968,500.1 C976.8,498.2 975.6,487.7 980.1,481.9 C984.6,476.1 991.9,467.9 996.4,463.7 C1000.9,459.5 1003.3,458.6 1008.5,455.5 C1013.7,452.4 1022.6,445 1028.8,444.4 C1035,443.8 1042.8,447.5 1047,451.5 C1051.2,455.5 1051.9,464.8 1055.1,469.7 C1058.3,474.6 1063.1,477.7 1067.3,481.9 C1071.5,486.1 1078.4,493.2 1081.5,496.1 C1084.6,499 1078.7,500 1086.6,500.1 C1094.5,500.2 1122,498.2 1130.8,497 C1139.6,495.8 1138.1,496 1141.3,492.5 C1144.5,489 1148,480.5 1151.1,475.4 C1154.2,470.3 1157.2,464.9 1160.8,460.8 C1164.4,456.7 1170.2,452 1173.8,449.5 C1177.4,447 1180.4,445.9 1183.5,445.4 C1186.6,444.9 1189,444.8 1193.2,446.2 C1197.4,447.6 1205.9,451.2 1209.5,454.3 C1213.1,457.4 1213.3,462.1 1215.9,465.7 C1218.5,469.3 1222.8,473.6 1225.7,477 C1228.6,480.4 1230.3,483.4 1233.8,486.8 C1237.3,490.2 1238.4,496 1247.6,498.1 C1256.8,500.2 1282.2,501.4 1291.5,500.1 C1300.8,498.8 1301.5,494.2 1305.7,490 C1309.9,485.8 1313.9,479.3 1317.8,473.8 C1321.7,468.3 1326.8,459.4 1330,455.5 C1333.2,451.6 1332.9,450.5 1338.1,449.5 C1343.3,448.5 1356.6,448.5 1362.4,449.5 C1368.2,450.5 1371.4,452.3 1374.6,455.5 C1377.8,458.7 1379.8,464.8 1382.7,469.7 C1385.6,474.6 1388.7,481.1 1392.9,486 C1397.1,490.9 1399.7,498.3 1409.1,500.1 C1418.5,501.9 1441.5,499.9 1451.6,497 C1461.7,494.1 1467.8,485 1472,482 C1476.2,479 1477,478.6 1478,478"/>
<path class="cl" d="M900,499.5 C900.8,499.6 900.9,499.4 905,500 C909.1,500.6 915.3,502.9 925.4,503 C935.5,503.1 958.3,502.3 968,500.5 C977.7,498.7 980,492.9 986.2,492 C992.4,491.1 1000,495.3 1006.5,495.1 C1013,494.9 1020.3,492.1 1026.8,491 C1033.3,489.9 1040.5,487.8 1047,488 C1053.5,488.2 1061,489.7 1067.3,492 C1073.6,494.3 1076.6,501.2 1086.6,502.2 C1096.6,503.2 1120.5,498.6 1130,498.5 C1139.5,498.4 1142.3,500.6 1146.2,501.4 C1150.1,502.2 1151.7,503.7 1154.3,503.3 C1156.9,502.9 1159.8,500.4 1162.4,498.9 C1165,497.4 1163.2,495.4 1170.5,494.1 C1177.8,492.8 1199,491.2 1207.8,490.8 C1216.6,490.4 1219.3,490.2 1225.7,491.6 C1232.1,493 1237.1,498.3 1247.6,499.7 C1258.1,501.1 1281.2,501.7 1291.5,500.5 C1301.8,499.3 1303.7,493.8 1311.8,492 C1319.9,490.2 1332.5,489.5 1342.2,489 C1351.9,488.5 1364.5,488.2 1372.6,489 C1380.7,489.8 1387.1,492.3 1392.9,494.1 C1398.7,495.9 1399.7,499.6 1409.1,500.5 C1418.5,501.4 1441.5,500.9 1451.6,500 C1461.7,499.1 1467.8,496 1472,495 C1476.2,494 1477,493.7 1478,493.5"/>
<path class="cl" d="M900,517.5 C900.8,517.6 900.9,517.6 905,518.4 C909.1,519.2 915.3,521.4 925.4,522.4 C935.5,523.4 956.6,525.1 968,524.5 C979.4,523.9 988,520 996.4,518.4 C1004.8,516.8 1011,515 1020.7,514.3 C1030.4,513.6 1050.4,514.6 1057.2,514.3 C1064,514 1060.1,511 1063.3,512.3 C1066.5,513.6 1073.8,520 1077.5,522.4 C1081.2,524.8 1078.2,527 1086.6,527.5 C1095,528 1119.7,526.2 1130,525.7 C1140.3,525.2 1145.1,525.1 1151.1,524.1 C1157.1,523.1 1159.5,520.4 1167.3,519.2 C1175.1,518 1190.4,517.6 1199.7,516.8 C1209,516 1220.5,513.9 1225.7,514.3 C1230.9,514.7 1228.7,517.6 1232.2,519.2 C1235.7,520.8 1238.1,522.6 1247.6,524.1 C1257.1,525.6 1281.2,529.1 1291.5,528.5 C1301.8,527.9 1305.3,522.3 1311.8,520.4 C1318.3,518.5 1323.9,517 1332,516.4 C1340.1,515.8 1354.3,517.1 1362.4,516.4 C1370.5,515.7 1375.2,511.3 1382.7,512.3 C1390.2,513.3 1398.1,520.8 1409.1,522.4 C1420.1,524 1441.5,523.7 1451.6,522 C1461.7,520.3 1467.8,514.1 1472,512 C1476.2,509.9 1477,509.5 1478,509"/>
<path class="cl" d="M900,527 C900.8,527.6 900.9,527.8 905,530.6 C909.1,533.4 915.3,542.1 925.4,544.7 C935.5,547.3 958.3,547.4 968,546.8 C977.7,546.2 980,542.7 986.2,540.7 C992.4,538.7 995.1,535.6 1006.5,534.6 C1017.9,533.6 1046.8,533.9 1057.2,534.6 C1067.6,535.3 1066.7,536.7 1071.4,538.7 C1076.1,540.7 1077.2,545.8 1086.6,546.8 C1096,547.8 1121,546.1 1130,545.1 C1139,544.1 1137,542.1 1143,540.3 C1149,538.5 1156.1,534.6 1167.3,533.8 C1178.5,533 1202.3,534.1 1212.7,535.4 C1223.1,536.7 1226.6,540.1 1232.2,541.9 C1237.8,543.7 1238.1,545.7 1247.6,546.8 C1257.1,547.9 1282.2,549.5 1291.5,548.8 C1300.8,548.1 1300.2,545 1305.7,542.7 C1311.2,540.4 1316.9,535.9 1326,534.6 C1335.1,533.3 1353.3,533.9 1362.4,534.6 C1371.5,535.3 1375.2,536.4 1382.7,538.7 C1390.2,541 1398.1,547.3 1409.1,548.8 C1420.1,550.3 1441.5,551 1451.6,548 C1461.7,545 1467.8,533.7 1472,530 C1476.2,526.3 1477,525.8 1478,525"/>
</g>
<path d="M1116.3,367 L1117.8,370" stroke="#555" stroke-width="1.2" fill="none"/>
</g>
<path fill="#fff" d="M896,136 L905,150 L905,553 L896,564 Z M1470,150 L1480,136 L1480,564 L1472,552.3 Z M896,136 L1480,136 L1470,150 L905,150 Z M905,553 L1472,552.3 L1480,564 L896,564 Z"/>
<clipPath id="cpgb0"><rect x="925.4" y="492" width="41.6" height="59.8"/></clipPath>
<rect x="925.4" y="492" width="41.6" height="59.8" fill="url(#gb0)"/><g clip-path="url(#cpgb0)" stroke="#2c3e55" stroke-opacity="0.4" stroke-width=".8"><line x1="925.4" y1="492.8" x2="967" y2="499.7"/><line x1="925.4" y1="497.1" x2="967" y2="504"/><line x1="925.4" y1="501.3" x2="967" y2="508.3"/><line x1="925.4" y1="505.6" x2="967" y2="512.6"/><line x1="925.4" y1="509.9" x2="967" y2="516.8"/><line x1="925.4" y1="514.2" x2="967" y2="521.1"/><line x1="925.4" y1="518.4" x2="967" y2="525.4"/><line x1="925.4" y1="522.7" x2="967" y2="529.6"/><line x1="925.4" y1="527" x2="967" y2="533.9"/><line x1="925.4" y1="531.2" x2="967" y2="538.2"/><line x1="925.4" y1="535.5" x2="967" y2="542.5"/><line x1="925.4" y1="539.8" x2="967" y2="546.7"/><line x1="925.4" y1="544.1" x2="967" y2="551"/></g>
<clipPath id="cpgb1"><rect x="1086.6" y="492" width="42.5" height="59.8"/></clipPath>
<rect x="1086.6" y="492" width="42.5" height="59.8" fill="url(#gb1)"/><g clip-path="url(#cpgb1)" stroke="#2c3e55" stroke-opacity="0.4" stroke-width=".8"><line x1="1086.6" y1="496.3" x2="1129.1" y2="496.3"/><line x1="1086.6" y1="500.5" x2="1129.1" y2="500.5"/><line x1="1086.6" y1="504.8" x2="1129.1" y2="504.8"/><line x1="1086.6" y1="509.1" x2="1129.1" y2="509.1"/><line x1="1086.6" y1="513.4" x2="1129.1" y2="513.4"/><line x1="1086.6" y1="517.6" x2="1129.1" y2="517.6"/><line x1="1086.6" y1="521.9" x2="1129.1" y2="521.9"/><line x1="1086.6" y1="526.2" x2="1129.1" y2="526.2"/><line x1="1086.6" y1="530.4" x2="1129.1" y2="530.4"/><line x1="1086.6" y1="534.7" x2="1129.1" y2="534.7"/><line x1="1086.6" y1="539" x2="1129.1" y2="539"/><line x1="1086.6" y1="543.3" x2="1129.1" y2="543.3"/><line x1="1086.6" y1="547.5" x2="1129.1" y2="547.5"/></g>
<clipPath id="cpgb2"><rect x="1247.9" y="491" width="42.6" height="59.8"/></clipPath>
<rect x="1247.9" y="491" width="42.6" height="59.8" fill="url(#gb2)"/><g clip-path="url(#cpgb2)" stroke="#2c3e55" stroke-opacity="0.4" stroke-width=".8"><line x1="1247.9" y1="495.3" x2="1290.5" y2="495.3"/><line x1="1247.9" y1="499.5" x2="1290.5" y2="499.5"/><line x1="1247.9" y1="503.8" x2="1290.5" y2="503.8"/><line x1="1247.9" y1="508.1" x2="1290.5" y2="508.1"/><line x1="1247.9" y1="512.4" x2="1290.5" y2="512.4"/><line x1="1247.9" y1="516.6" x2="1290.5" y2="516.6"/><line x1="1247.9" y1="520.9" x2="1290.5" y2="520.9"/><line x1="1247.9" y1="525.2" x2="1290.5" y2="525.2"/><line x1="1247.9" y1="529.4" x2="1290.5" y2="529.4"/><line x1="1247.9" y1="533.7" x2="1290.5" y2="533.7"/><line x1="1247.9" y1="538" x2="1290.5" y2="538"/><line x1="1247.9" y1="542.3" x2="1290.5" y2="542.3"/><line x1="1247.9" y1="546.5" x2="1290.5" y2="546.5"/></g>
<clipPath id="cpgb3"><rect x="1409" y="491" width="42.6" height="59.8"/></clipPath>
<rect x="1409" y="491" width="42.6" height="59.8" fill="url(#gb3)"/><g clip-path="url(#cpgb3)" stroke="#2c3e55" stroke-opacity="0.4" stroke-width=".8"><line x1="1409" y1="498.8" x2="1451.6" y2="491.7"/><line x1="1409" y1="503.1" x2="1451.6" y2="496"/><line x1="1409" y1="507.4" x2="1451.6" y2="500.3"/><line x1="1409" y1="511.6" x2="1451.6" y2="504.5"/><line x1="1409" y1="515.9" x2="1451.6" y2="508.8"/><line x1="1409" y1="520.2" x2="1451.6" y2="513.1"/><line x1="1409" y1="524.5" x2="1451.6" y2="517.3"/><line x1="1409" y1="528.7" x2="1451.6" y2="521.6"/><line x1="1409" y1="533" x2="1451.6" y2="525.9"/><line x1="1409" y1="537.3" x2="1451.6" y2="530.2"/><line x1="1409" y1="541.5" x2="1451.6" y2="534.4"/><line x1="1409" y1="545.8" x2="1451.6" y2="538.7"/><line x1="1409" y1="550.1" x2="1451.6" y2="543"/></g>
<text class="lb" x="1173.3" y="182" text-anchor="middle" dominant-baseline="central">0.14</text>
<text class="lb" x="1175" y="220.7" text-anchor="middle" dominant-baseline="central">0.13</text>
<text class="lb" x="1181.6" y="257.6" text-anchor="middle" dominant-baseline="central">0.12</text>
<text class="lb" x="1183.8" y="284" text-anchor="middle" dominant-baseline="central">0.11</text>
<text class="lb" x="1188" y="323.4" text-anchor="middle" dominant-baseline="central" transform="rotate(3 1188 323.4)">0.09</text>
<text class="lb" x="1182.7" y="359" text-anchor="middle" dominant-baseline="central" transform="rotate(-7 1182.7 359)">0.08</text>
<text class="lb" x="1104.5" y="393.5" text-anchor="middle" dominant-baseline="central" transform="rotate(12 1104.5 393.5)">0.07</text>
<text class="lb" x="1180" y="399.5" text-anchor="middle" dominant-baseline="central" transform="rotate(-18 1180 399.5)">0.06</text>
<text class="lb" x="1281.5" y="414.6" text-anchor="middle" dominant-baseline="central" transform="rotate(33 1281.5 414.6)">0.07</text>
<text class="lb" x="1031.8" y="410.4" text-anchor="middle" dominant-baseline="central" transform="rotate(15 1031.8 410.4)">0.06</text>
<text class="lb" x="1109.3" y="467" text-anchor="middle" dominant-baseline="central" transform="rotate(52 1109.3 467)">0.08</text>
<text class="lb" x="1272.7" y="454" text-anchor="middle" dominant-baseline="central" transform="rotate(55 1272.7 454)">0.08</text>
<text class="lb" x="1185" y="458.4" text-anchor="middle" dominant-baseline="central">0.05</text>
<text class="lb" x="1188.3" y="500" text-anchor="middle" dominant-baseline="central">0.04</text>
<text class="lb" x="1188.7" y="533.8" text-anchor="middle" dominant-baseline="central">0.02</text>
<text class="lb" x="1107.8" y="499.8" text-anchor="middle" dominant-baseline="central">0.12</text>
<text class="lb" x="1269.2" y="499.5" text-anchor="middle" dominant-baseline="central">0.11</text>
<text class="lb" x="1107.8" y="542.3" text-anchor="middle" dominant-baseline="central">0.01</text>
<rect x="926.9" y="493.5" width="38.6" height="56.8" fill="none" stroke="#0b0f1a" stroke-width="3.2"/>
<rect x="1088.1" y="493.5" width="39.5" height="56.8" fill="none" stroke="#0b0f1a" stroke-width="3.2"/>
<rect x="1249.4" y="492.5" width="39.6" height="56.8" fill="none" stroke="#0b0f1a" stroke-width="3.2"/>
<rect x="1410.5" y="492.5" width="39.6" height="56.8" fill="none" stroke="#0b0f1a" stroke-width="3.2"/>
</g>
<path d="M304.2,98 H853.2" stroke="#111" stroke-width="2.4" fill="none" stroke-linecap="square"/><path d="M304.2,98 V142" stroke="#111" stroke-width="2.6" fill="none"/><path d="M304.2,152 L299.6,135.5 Q304.2,139 308.8,135.5 Z" fill="#111"/><path d="M348.5,98 V142" stroke="#111" stroke-width="2.6" fill="none"/><path d="M348.5,152 L343.9,135.5 Q348.5,139 353.1,135.5 Z" fill="#111"/><path d="M390.6,98 V142" stroke="#111" stroke-width="2.6" fill="none"/><path d="M390.6,152 L385.9,135.5 Q390.6,139 395.2,135.5 Z" fill="#111"/><path d="M432.6,98 V142" stroke="#111" stroke-width="2.6" fill="none"/><path d="M432.6,152 L428,135.5 Q432.6,139 437.2,135.5 Z" fill="#111"/><path d="M474.6,98 V142" stroke="#111" stroke-width="2.6" fill="none"/><path d="M474.6,152 L470,135.5 Q474.6,139 479.2,135.5 Z" fill="#111"/><path d="M516.7,98 V142" stroke="#111" stroke-width="2.6" fill="none"/><path d="M516.7,152 L512.1,135.5 Q516.7,139 521.3,135.5 Z" fill="#111"/><path d="M558.8,98 V142" stroke="#111" stroke-width="2.6" fill="none"/><path d="M558.8,152 L554.1,135.5 Q558.8,139 563.4,135.5 Z" fill="#111"/><path d="M600.8,98 V142" stroke="#111" stroke-width="2.6" fill="none"/><path d="M600.8,152 L596.2,135.5 Q600.8,139 605.4,135.5 Z" fill="#111"/><path d="M642.8,98 V142" stroke="#111" stroke-width="2.6" fill="none"/><path d="M642.8,152 L638.2,135.5 Q642.8,139 647.4,135.5 Z" fill="#111"/><path d="M684.9,98 V142" stroke="#111" stroke-width="2.6" fill="none"/><path d="M684.9,152 L680.3,135.5 Q684.9,139 689.5,135.5 Z" fill="#111"/><path d="M727,98 V142" stroke="#111" stroke-width="2.6" fill="none"/><path d="M727,152 L722.4,135.5 Q727,139 731.6,135.5 Z" fill="#111"/><path d="M769,98 V142" stroke="#111" stroke-width="2.6" fill="none"/><path d="M769,152 L764.4,135.5 Q769,139 773.6,135.5 Z" fill="#111"/><path d="M811,98 V142" stroke="#111" stroke-width="2.6" fill="none"/><path d="M811,152 L806.4,135.5 Q811,139 815.6,135.5 Z" fill="#111"/><path d="M853.1,98 V142" stroke="#111" stroke-width="2.6" fill="none"/><path d="M853.1,152 L848.5,135.5 Q853.1,139 857.7,135.5 Z" fill="#111"/>
<path d="M432.6,95 V98 M1035.9,92.8 V96" stroke="#111" stroke-width="2.2"/>
<path d="M907.2,95.9 H1457.8" stroke="#111" stroke-width="2.4" fill="none" stroke-linecap="square"/><path d="M907.2,95.9 V141" stroke="#111" stroke-width="2.6" fill="none"/><path d="M907.2,151 L902.6,134.5 Q907.2,138 911.8,134.5 Z" fill="#111"/><path d="M951.4,95.9 V141" stroke="#111" stroke-width="2.6" fill="none"/><path d="M951.4,151 L946.8,134.5 Q951.4,138 956,134.5 Z" fill="#111"/><path d="M993.6,95.9 V141" stroke="#111" stroke-width="2.6" fill="none"/><path d="M993.6,151 L989,134.5 Q993.6,138 998.2,134.5 Z" fill="#111"/><path d="M1035.8,95.9 V141" stroke="#111" stroke-width="2.6" fill="none"/><path d="M1035.8,151 L1031.2,134.5 Q1035.8,138 1040.4,134.5 Z" fill="#111"/><path d="M1078,95.9 V141" stroke="#111" stroke-width="2.6" fill="none"/><path d="M1078,151 L1073.4,134.5 Q1078,138 1082.6,134.5 Z" fill="#111"/><path d="M1120.2,95.9 V141" stroke="#111" stroke-width="2.6" fill="none"/><path d="M1120.2,151 L1115.6,134.5 Q1120.2,138 1124.8,134.5 Z" fill="#111"/><path d="M1162.4,95.9 V141" stroke="#111" stroke-width="2.6" fill="none"/><path d="M1162.4,151 L1157.8,134.5 Q1162.4,138 1167,134.5 Z" fill="#111"/><path d="M1204.6,95.9 V141" stroke="#111" stroke-width="2.6" fill="none"/><path d="M1204.6,151 L1200,134.5 Q1204.6,138 1209.2,134.5 Z" fill="#111"/><path d="M1246.8,95.9 V141" stroke="#111" stroke-width="2.6" fill="none"/><path d="M1246.8,151 L1242.2,134.5 Q1246.8,138 1251.4,134.5 Z" fill="#111"/><path d="M1289,95.9 V141" stroke="#111" stroke-width="2.6" fill="none"/><path d="M1289,151 L1284.4,134.5 Q1289,138 1293.6,134.5 Z" fill="#111"/><path d="M1331.2,95.9 V141" stroke="#111" stroke-width="2.6" fill="none"/><path d="M1331.2,151 L1326.6,134.5 Q1331.2,138 1335.8,134.5 Z" fill="#111"/><path d="M1373.4,95.9 V141" stroke="#111" stroke-width="2.6" fill="none"/><path d="M1373.4,151 L1368.8,134.5 Q1373.4,138 1378,134.5 Z" fill="#111"/><path d="M1415.6,95.9 V141" stroke="#111" stroke-width="2.6" fill="none"/><path d="M1415.6,151 L1411,134.5 Q1415.6,138 1420.2,134.5 Z" fill="#111"/><path d="M1457.8,95.9 V141" stroke="#111" stroke-width="2.6" fill="none"/><path d="M1457.8,151 L1453.2,134.5 Q1457.8,138 1462.4,134.5 Z" fill="#111"/>
<g stroke="#e0313f" stroke-width="3.3" fill="none"><line x1="906.8" y1="552.5" x2="906.8" y2="558"/><line x1="906.6" y1="579.3" x2="906.4" y2="613.3"/><line x1="906.2" y1="634.6" x2="906" y2="668.6"/><line x1="905.8" y1="689.9" x2="905.6" y2="723.9"/><line x1="905.5" y1="745.2" x2="905.2" y2="779.2"/><line x1="905.1" y1="800.5" x2="904.8" y2="834.5"/><line x1="904.7" y1="855.8" x2="904.4" y2="889.8"/><line x1="904.3" y1="911.1" x2="904.1" y2="945.1"/><line x1="903.9" y1="966.4" x2="903.7" y2="1000.4"/><line x1="903.5" y1="1021.7" x2="903.3" y2="1055.7"/><line x1="903.1" y1="1077" x2="902.9" y2="1111"/><line x1="902.8" y1="1132.3" x2="902.5" y2="1166.3"/><line x1="1472.6" y1="1156.1" x2="1472.6" y2="1185"/><line x1="1472.6" y1="1100.7" x2="1472.6" y2="1133.7"/><line x1="1472.6" y1="1045.3" x2="1472.6" y2="1078.3"/><line x1="1472.6" y1="989.9" x2="1472.6" y2="1022.9"/><line x1="1472.6" y1="934.5" x2="1472.6" y2="967.5"/><line x1="1472.6" y1="879.1" x2="1472.6" y2="912.1"/><line x1="1472.6" y1="823.7" x2="1472.6" y2="856.7"/><line x1="1472.6" y1="768.3" x2="1472.6" y2="801.3"/><line x1="1472.6" y1="712.9" x2="1472.6" y2="745.9"/><line x1="1472.6" y1="657.5" x2="1472.6" y2="690.5"/><line x1="1472.6" y1="602.1" x2="1472.6" y2="635.1"/><line x1="1472.6" y1="546.7" x2="1472.6" y2="579.7"/><line x1="910.4" y1="1183.4" x2="943.2" y2="1183.4"/><line x1="965.9" y1="1183.4" x2="998.7" y2="1183.4"/><line x1="1021.5" y1="1183.4" x2="1054.3" y2="1183.4"/><line x1="1077" y1="1183.4" x2="1109.8" y2="1183.4"/><line x1="1132.6" y1="1183.4" x2="1165.4" y2="1183.4"/><line x1="1188.1" y1="1183.4" x2="1220.9" y2="1183.4"/><line x1="1243.7" y1="1183.4" x2="1276.5" y2="1183.4"/><line x1="1299.2" y1="1183.4" x2="1332" y2="1183.4"/><line x1="1354.8" y1="1183.4" x2="1387.6" y2="1183.4"/><line x1="1410.3" y1="1183.4" x2="1443.1" y2="1183.4"/><line x1="1466.5" y1="1183.4" x2="1474.2" y2="1183.4"/></g>
<path d="M152.6,199 V110.7 H238" stroke="#000" stroke-width="5.2" fill="none" stroke-linejoin="miter"/>
<path d="M260.8,110.7 L229.5,101.6 L237,110.7 L229.5,119.8 Z" fill="#000"/>
<path d="M152.6,221.6 L143.4,191.5 L152.6,198.5 L161.8,191.5 Z" fill="#000"/>
<text class="sb" x="263.2" y="114" font-size="31" style="fill:#000">y</text>
<text class="sb" x="145.2" y="240.4" font-size="30" style="fill:#000">x</text>
<text class="sr" x="-1" y="60.5" font-size="74" letter-spacing="2.4">(A)</text>
<text class="sr" x="823.4" y="55" font-size="74" letter-spacing="2.4">(B)</text>
<text class="sb" x="509" y="92" font-size="48" letter-spacing="2.55">Thrust</text>
<text class="sb" x="1128.6" y="83.5" font-size="48" letter-spacing="2.05">Thrust</text>
<text class="sb" x="72.6" y="295" font-size="49" letter-spacing="2.1">Sxx(MPa)</text>
<text class="sb" x="913" y="843.3" font-size="37" letter-spacing="0.72">Soil Slip Before Anti-Sliding Piles</text>
<g filter="url(#bl2)">
<rect x="107.3" y="319.3" width="56.1" height="22.6" fill="#b8162e"/>
<rect x="107.3" y="341.6" width="56.1" height="44.8" fill="#cc4742"/>
<rect x="107.3" y="386.1" width="56.1" height="44.8" fill="#e47757"/>
<rect x="107.3" y="430.6" width="56.1" height="44.8" fill="#f29e7c"/>
<rect x="107.3" y="475.1" width="56.1" height="44.8" fill="#f9c3ab"/>
<rect x="107.3" y="519.6" width="56.1" height="44.8" fill="#fcdccb"/>
<rect x="107.3" y="564.1" width="56.1" height="44.8" fill="#fbe9df"/>
<rect x="107.3" y="608.6" width="56.1" height="44.8" fill="#f5f5f5"/>
<rect x="107.3" y="653.1" width="56.1" height="44.8" fill="#e6eef4"/>
<rect x="107.3" y="697.6" width="56.1" height="44.8" fill="#d3e5f0"/>
<rect x="107.3" y="742.1" width="56.1" height="44.8" fill="#b0d3e7"/>
<rect x="107.3" y="786.6" width="56.1" height="44.8" fill="#89bddb"/>
<rect x="107.3" y="831.1" width="56.1" height="44.8" fill="#5fa2cf"/>
<rect x="107.3" y="875.6" width="56.1" height="44.8" fill="#3f85bc"/>
<rect x="107.3" y="920.1" width="56.1" height="22.8" fill="#1f6ab5"/>
<line x1="107.3" y1="341.6" x2="163.4" y2="341.6" stroke="#3a3a3a" stroke-opacity=".55" stroke-width="1"/>
<line x1="107.3" y1="386.1" x2="163.4" y2="386.1" stroke="#3a3a3a" stroke-opacity=".55" stroke-width="1"/>
<line x1="107.3" y1="430.6" x2="163.4" y2="430.6" stroke="#3a3a3a" stroke-opacity=".55" stroke-width="1"/>
<line x1="107.3" y1="475.1" x2="163.4" y2="475.1" stroke="#3a3a3a" stroke-opacity=".55" stroke-width="1"/>
<line x1="107.3" y1="519.6" x2="163.4" y2="519.6" stroke="#3a3a3a" stroke-opacity=".55" stroke-width="1"/>
<line x1="107.3" y1="564.1" x2="163.4" y2="564.1" stroke="#3a3a3a" stroke-opacity=".55" stroke-width="1"/>
<line x1="107.3" y1="608.6" x2="163.4" y2="608.6" stroke="#3a3a3a" stroke-opacity=".55" stroke-width="1"/>
<line x1="107.3" y1="653.1" x2="163.4" y2="653.1" stroke="#3a3a3a" stroke-opacity=".55" stroke-width="1"/>
<line x1="107.3" y1="697.6" x2="163.4" y2="697.6" stroke="#3a3a3a" stroke-opacity=".55" stroke-width="1"/>
<line x1="107.3" y1="742.1" x2="163.4" y2="742.1" stroke="#3a3a3a" stroke-opacity=".55" stroke-width="1"/>
<line x1="107.3" y1="786.6" x2="163.4" y2="786.6" stroke="#3a3a3a" stroke-opacity=".55" stroke-width="1"/>
<line x1="107.3" y1="831.1" x2="163.4" y2="831.1" stroke="#3a3a3a" stroke-opacity=".55" stroke-width="1"/>
<line x1="107.3" y1="875.6" x2="163.4" y2="875.6" stroke="#3a3a3a" stroke-opacity=".55" stroke-width="1"/>
<line x1="107.3" y1="920.1" x2="163.4" y2="920.1" stroke="#3a3a3a" stroke-opacity=".55" stroke-width="1"/>
<rect x="107.3" y="319.3" width="56.1" height="623.3" fill="none" stroke="#555" stroke-opacity=".35" stroke-width=".8"/>
<text class="lg" x="191.3" y="360.2">0.14</text>
<text class="lg" x="191.3" y="404.7">0.13</text>
<text class="lg" x="191.3" y="449.2">0.12</text>
<text class="lg" x="191.3" y="493.7">0.11</text>
<text class="lg" x="191.3" y="538.2">0.1</text>
<text class="lg" x="191.3" y="582.7">0.09</text>
<text class="lg" x="191.3" y="627.2">0.08</text>
<text class="lg" x="191.3" y="671.7">0.07</text>
<text class="lg" x="191.3" y="716.2">0.06</text>
<text class="lg" x="191.3" y="760.7">0.05</text>
<text class="lg" x="191.3" y="805.2">0.04</text>
<text class="lg" x="191.3" y="849.7">0.03</text>
<text class="lg" x="191.3" y="894.2">0.02</text>
<text class="lg" x="191.3" y="938.7">0.01</text>
</g>
</svg></body></html>
